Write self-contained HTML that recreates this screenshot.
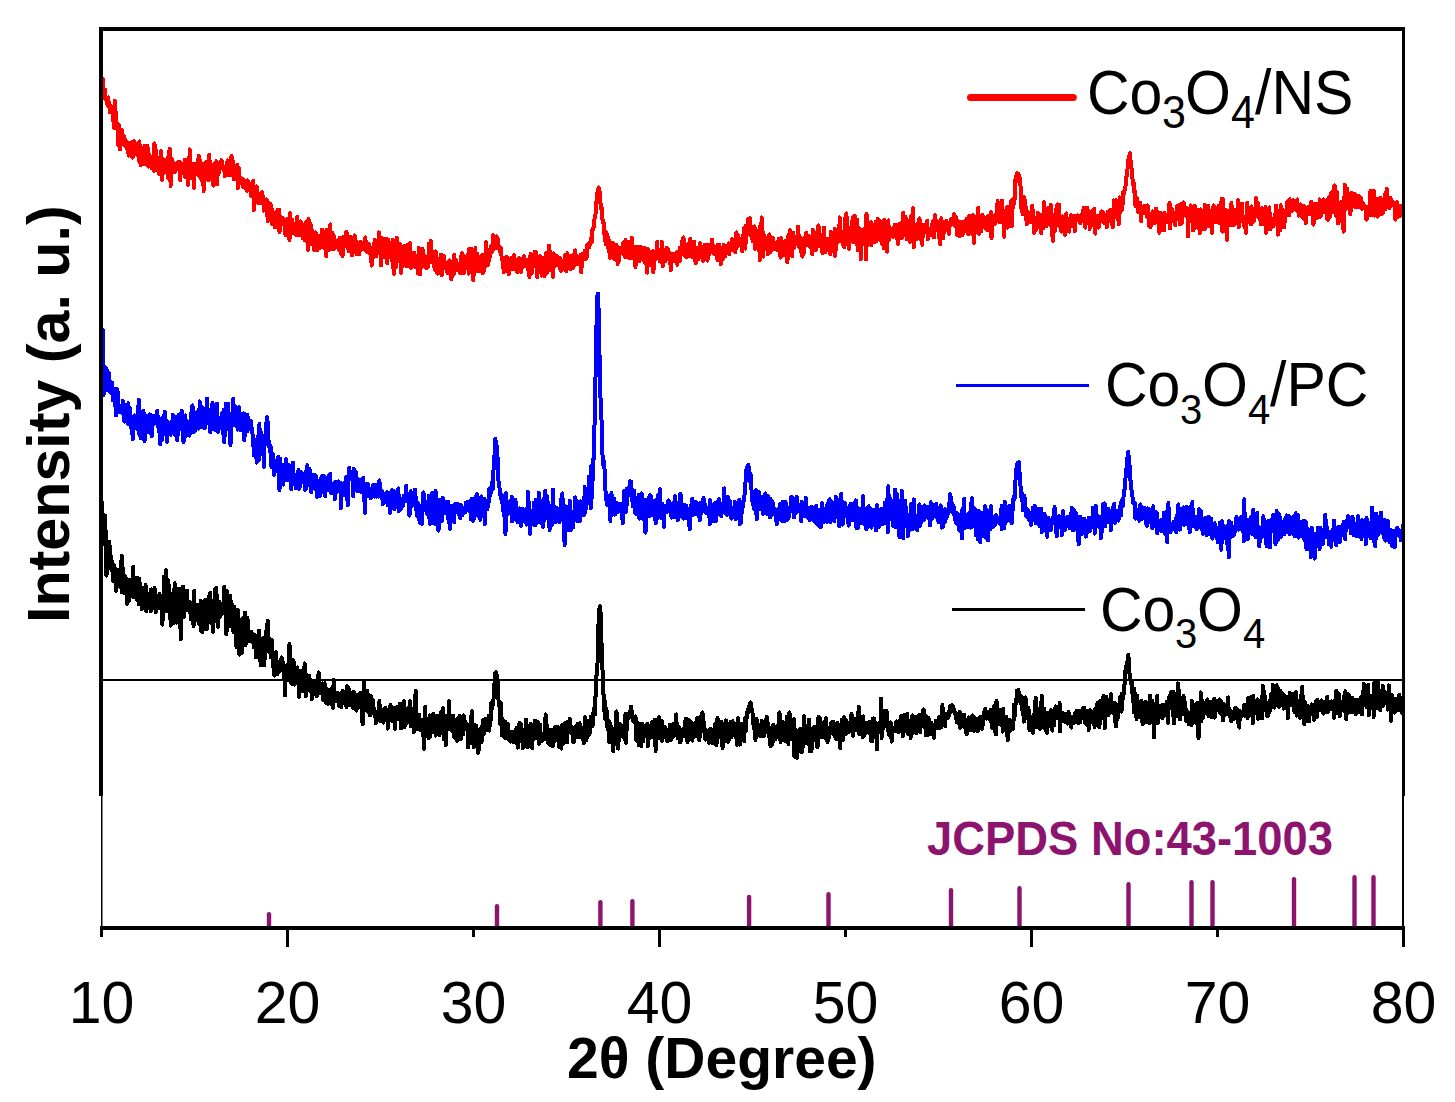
<!DOCTYPE html>
<html><head><meta charset="utf-8"><style>
html,body{margin:0;padding:0;background:#fff;}
svg{display:block;}
text{font-family:"Liberation Sans", sans-serif;}
</style></head><body>
<svg width="1455" height="1102" viewBox="0 0 1455 1102">
<rect width="1455" height="1102" fill="#fff"/>
<g fill="none" stroke-linejoin="round" stroke-linecap="round" stroke-width="4" shape-rendering="crispEdges">
<polyline stroke="#ff0000" points="101.5,88.2 102.1,92.8 102.6,90.2 103.2,79.3 103.7,97.1 104.3,95.2 104.8,89.3 105.4,99.3 106.0,99.3 106.5,100.4 107.1,100.1 107.6,105.7 108.2,97.4 108.8,103.5 109.3,102.6 109.9,112.6 110.4,109.7 111.0,108.6 111.5,106.2 112.1,111.8 112.7,115.3 113.2,114.5 113.8,127.9 114.3,127.1 114.9,100.9 115.4,108.7 116.0,122.8 116.6,122.7 117.1,128.8 117.7,130.5 118.2,145.3 118.8,124.6 119.4,131.3 119.9,149.5 120.5,141.5 121.0,143.1 121.6,136.5 122.1,130.0 122.7,143.7 123.3,144.3 123.8,135.8 124.4,140.5 124.9,145.5 125.5,139.8 126.1,146.4 126.6,148.3 127.2,148.2 127.7,144.4 128.3,153.1 128.8,155.6 129.4,151.5 130.0,142.9 130.5,155.1 131.1,145.8 131.6,156.8 132.2,141.7 132.7,157.6 133.3,150.5 133.9,141.1 134.4,148.8 135.0,152.1 135.5,154.1 136.1,144.5 136.7,143.9 137.2,154.6 137.8,149.7 138.3,155.6 138.9,160.2 139.4,141.4 140.0,156.9 140.6,164.9 141.1,153.2 141.7,149.4 142.2,162.2 142.8,158.6 143.3,164.0 143.9,154.4 144.5,145.7 145.0,156.9 145.6,154.5 146.1,164.5 146.7,160.2 147.3,145.9 147.8,149.6 148.4,166.6 148.9,165.2 149.5,154.9 150.0,160.3 150.6,164.2 151.2,164.6 151.7,168.2 152.3,163.4 152.8,160.8 153.4,159.6 154.0,170.8 154.5,143.4 155.1,161.3 155.6,162.9 156.2,150.7 156.7,165.9 157.3,157.6 157.9,170.8 158.4,162.5 159.0,169.6 159.5,174.5 160.1,167.4 160.6,156.6 161.2,151.2 161.8,179.8 162.3,163.8 162.9,159.0 163.4,166.3 164.0,163.7 164.6,172.7 165.1,165.9 165.7,165.9 166.2,160.2 166.8,170.0 167.3,158.2 167.9,171.8 168.5,178.5 169.0,155.4 169.6,148.8 170.1,171.9 170.7,185.9 171.2,160.6 171.8,159.1 172.4,172.1 172.9,162.5 173.5,164.9 174.0,166.2 174.6,172.2 175.2,166.1 175.7,170.7 176.3,167.8 176.8,163.4 177.4,167.0 177.9,162.7 178.5,169.4 179.1,161.5 179.6,161.6 180.2,180.1 180.7,169.1 181.3,169.1 181.9,173.5 182.4,166.3 183.0,167.8 183.5,173.1 184.1,172.0 184.6,159.7 185.2,176.9 185.8,164.4 186.3,160.2 186.9,161.5 187.4,166.1 188.0,184.9 188.5,158.6 189.1,171.2 189.7,149.3 190.2,169.6 190.8,178.2 191.3,167.3 191.9,163.5 192.5,171.7 193.0,176.1 193.6,175.7 194.1,187.8 194.7,171.3 195.2,163.9 195.8,168.2 196.4,168.7 196.9,170.3 197.5,169.1 198.0,170.8 198.6,155.6 199.1,176.2 199.7,165.0 200.3,160.6 200.8,174.7 201.4,179.9 201.9,173.9 202.5,171.6 203.1,164.0 203.6,190.9 204.2,177.2 204.7,163.6 205.3,166.3 205.8,172.3 206.4,161.6 207.0,173.2 207.5,169.2 208.1,180.3 208.6,178.6 209.2,154.5 209.8,172.6 210.3,161.6 210.9,179.6 211.4,173.2 212.0,175.7 212.5,164.6 213.1,184.2 213.7,185.5 214.2,163.8 214.8,173.7 215.3,166.0 215.9,170.5 216.4,161.2 217.0,184.3 217.6,162.8 218.1,167.8 218.7,173.8 219.2,164.8 219.8,167.9 220.4,165.2 220.9,168.6 221.5,160.2 222.0,166.2 222.6,168.1 223.1,167.1 223.7,170.4 224.3,167.6 224.8,176.4 225.4,167.6 225.9,169.3 226.5,165.0 227.0,166.3 227.6,160.3 228.2,175.2 228.7,161.7 229.3,165.1 229.8,174.3 230.4,174.9 231.0,168.6 231.5,155.8 232.1,175.5 232.6,174.5 233.2,161.8 233.7,178.9 234.3,168.2 234.9,165.5 235.4,174.9 236.0,173.4 236.5,176.6 237.1,165.0 237.7,188.2 238.2,173.2 238.8,168.2 239.3,182.1 239.9,177.1 240.4,181.7 241.0,178.8 241.6,181.1 242.1,183.4 242.7,179.1 243.2,186.9 243.8,182.0 244.3,180.8 244.9,186.0 245.5,188.3 246.0,185.7 246.6,183.4 247.1,190.8 247.7,180.3 248.3,184.2 248.8,189.7 249.4,183.5 249.9,190.6 250.5,190.7 251.0,195.9 251.6,187.3 252.2,189.2 252.7,194.6 253.3,180.6 253.8,210.5 254.4,190.7 254.9,191.0 255.5,200.4 256.1,195.8 256.6,186.3 257.2,200.8 257.7,202.8 258.3,195.5 258.9,197.0 259.4,202.4 260.0,193.9 260.5,203.2 261.1,202.2 261.6,196.7 262.2,192.1 262.8,200.7 263.3,196.4 263.9,210.7 264.4,204.9 265.0,210.3 265.6,205.8 266.1,207.3 266.7,199.4 267.2,211.7 267.8,221.5 268.3,204.7 268.9,203.0 269.5,207.2 270.0,205.1 270.6,204.0 271.1,211.7 271.7,208.9 272.2,224.0 272.8,212.9 273.4,216.4 273.9,222.2 274.5,213.1 275.0,227.5 275.6,212.2 276.2,211.8 276.7,216.0 277.3,218.6 277.8,209.9 278.4,220.7 278.9,209.5 279.5,232.2 280.1,222.2 280.6,218.8 281.2,217.4 281.7,221.6 282.3,223.3 282.8,217.9 283.4,219.3 284.0,224.8 284.5,222.9 285.1,233.5 285.6,235.3 286.2,227.7 286.8,231.3 287.3,218.9 287.9,233.0 288.4,228.5 289.0,232.3 289.5,240.3 290.1,213.1 290.7,231.1 291.2,221.6 291.8,233.5 292.3,220.0 292.9,225.8 293.5,230.6 294.0,233.5 294.6,229.6 295.1,223.4 295.7,225.0 296.2,235.3 296.8,228.8 297.4,216.6 297.9,235.1 298.5,232.0 299.0,235.5 299.6,226.6 300.1,235.5 300.7,221.3 301.3,233.9 301.8,226.0 302.4,235.2 302.9,238.0 303.5,224.6 304.1,230.2 304.6,231.2 305.2,240.7 305.7,237.1 306.3,221.7 306.8,235.7 307.4,238.3 308.0,250.0 308.5,219.1 309.1,228.9 309.6,244.7 310.2,223.1 310.7,224.8 311.3,239.4 311.9,244.0 312.4,230.8 313.0,241.2 313.5,238.3 314.1,250.1 314.7,238.5 315.2,246.9 315.8,232.4 316.3,238.6 316.9,239.7 317.4,249.9 318.0,245.8 318.6,235.8 319.1,247.2 319.7,248.1 320.2,241.4 320.8,240.4 321.4,240.9 321.9,229.5 322.5,243.9 323.0,244.1 323.6,235.8 324.1,247.7 324.7,231.9 325.3,237.9 325.8,238.4 326.4,256.3 326.9,229.9 327.5,245.7 328.0,248.4 328.6,244.1 329.2,250.0 329.7,233.9 330.3,224.4 330.8,247.0 331.4,232.4 332.0,238.9 332.5,232.6 333.1,249.4 333.6,248.1 334.2,236.2 334.7,248.7 335.3,242.8 335.9,240.9 336.4,242.5 337.0,240.6 337.5,247.1 338.1,244.8 338.6,239.6 339.2,250.5 339.8,237.5 340.3,244.7 340.9,245.8 341.4,254.2 342.0,238.2 342.6,256.1 343.1,243.4 343.7,240.3 344.2,236.4 344.8,246.2 345.3,241.8 345.9,232.6 346.5,232.2 347.0,236.5 347.6,235.4 348.1,248.8 348.7,250.8 349.3,246.7 349.8,242.8 350.4,236.8 350.9,240.4 351.5,246.5 352.0,255.5 352.6,246.7 353.2,238.2 353.7,240.7 354.3,237.2 354.8,235.5 355.4,239.9 355.9,242.8 356.5,254.1 357.1,242.5 357.6,251.5 358.2,254.5 358.7,243.8 359.3,254.1 359.9,248.7 360.4,241.9 361.0,246.6 361.5,245.4 362.1,244.1 362.6,244.7 363.2,247.1 363.8,249.3 364.3,241.2 364.9,246.9 365.4,237.5 366.0,249.0 366.5,251.5 367.1,248.7 367.7,249.6 368.2,251.7 368.8,243.5 369.3,246.4 369.9,251.4 370.5,254.8 371.0,250.8 371.6,265.6 372.1,247.5 372.7,255.1 373.2,257.1 373.8,247.3 374.4,242.4 374.9,239.7 375.5,249.5 376.0,256.4 376.6,250.3 377.2,249.6 377.7,245.5 378.3,252.6 378.8,232.3 379.4,250.2 379.9,248.7 380.5,238.0 381.1,265.4 381.6,237.8 382.2,240.2 382.7,239.3 383.3,257.5 383.8,241.8 384.4,254.2 385.0,253.7 385.5,251.2 386.1,238.7 386.6,244.5 387.2,263.2 387.8,239.3 388.3,243.3 388.9,249.1 389.4,257.4 390.0,253.2 390.5,257.7 391.1,243.0 391.7,260.3 392.2,257.6 392.8,239.7 393.3,266.8 393.9,273.8 394.4,247.7 395.0,255.2 395.6,267.3 396.1,242.1 396.7,237.7 397.2,243.9 397.8,250.5 398.4,250.5 398.9,261.3 399.5,258.2 400.0,244.3 400.6,260.9 401.1,272.8 401.7,266.5 402.3,264.6 402.8,255.5 403.4,264.4 403.9,246.3 404.5,262.1 405.1,254.3 405.6,265.6 406.2,259.4 406.7,245.2 407.3,256.4 407.8,266.3 408.4,245.4 409.0,250.7 409.5,249.2 410.1,243.2 410.6,264.5 411.2,267.7 411.7,263.6 412.3,259.2 412.9,257.1 413.4,259.8 414.0,252.5 414.5,265.5 415.1,266.9 415.7,266.3 416.2,255.7 416.8,260.5 417.3,259.0 417.9,273.2 418.4,262.1 419.0,248.0 419.6,264.0 420.1,274.3 420.7,266.3 421.2,267.7 421.8,262.1 422.3,248.8 422.9,250.0 423.5,253.8 424.0,261.2 424.6,264.1 425.1,266.6 425.7,259.8 426.3,268.3 426.8,260.1 427.4,257.2 427.9,267.4 428.5,255.7 429.0,243.5 429.6,254.6 430.2,262.2 430.7,241.0 431.3,259.1 431.8,259.2 432.4,251.9 433.0,251.5 433.5,258.3 434.1,257.8 434.6,269.7 435.2,263.9 435.7,251.3 436.3,256.2 436.9,266.2 437.4,273.7 438.0,264.3 438.5,264.0 439.1,273.4 439.6,262.2 440.2,260.7 440.8,254.5 441.3,259.9 441.9,275.2 442.4,255.3 443.0,263.3 443.6,255.9 444.1,264.3 444.7,268.4 445.2,262.6 445.8,267.8 446.3,267.8 446.9,266.6 447.5,273.1 448.0,268.5 448.6,263.0 449.1,261.2 449.7,260.4 450.2,267.3 450.8,263.2 451.4,279.4 451.9,274.9 452.5,263.9 453.0,263.3 453.6,274.6 454.2,254.5 454.7,262.7 455.3,270.9 455.8,259.9 456.4,262.5 456.9,263.3 457.5,269.6 458.1,266.4 458.6,268.1 459.2,269.5 459.7,265.8 460.3,273.1 460.9,260.6 461.4,255.7 462.0,253.2 462.5,254.1 463.1,261.7 463.6,273.2 464.2,267.0 464.8,261.3 465.3,257.7 465.9,261.7 466.4,262.7 467.0,261.4 467.5,254.7 468.1,262.0 468.7,273.6 469.2,248.6 469.8,263.8 470.3,248.9 470.9,267.1 471.5,259.7 472.0,248.9 472.6,266.4 473.1,280.2 473.7,266.4 474.2,274.9 474.8,264.9 475.4,248.0 475.9,269.3 476.5,261.9 477.0,253.4 477.6,271.3 478.1,267.1 478.7,260.5 479.3,271.3 479.8,257.5 480.4,268.9 480.9,256.6 481.5,267.3 482.1,254.9 482.6,273.4 483.2,264.0 483.7,271.8 484.3,255.7 484.8,257.7 485.4,266.0 486.0,242.1 486.5,252.7 487.1,265.6 487.6,261.5 488.2,264.1 488.8,255.8 489.3,260.5 489.9,252.4 490.4,248.3 491.0,246.1 491.5,252.0 492.1,251.3 492.7,250.1 493.2,235.2 493.8,241.9 494.3,247.1 494.9,248.6 495.4,243.6 496.0,241.0 496.6,236.2 497.1,245.4 497.7,238.6 498.2,246.3 498.8,248.7 499.4,247.6 499.9,247.0 500.5,252.3 501.0,248.0 501.6,257.2 502.1,257.4 502.7,262.0 503.3,266.0 503.8,272.4 504.4,259.0 504.9,269.6 505.5,257.4 506.0,257.1 506.6,259.5 507.2,257.2 507.7,271.6 508.3,271.4 508.8,274.0 509.4,265.1 510.0,267.3 510.5,261.6 511.1,257.9 511.6,268.6 512.2,267.5 512.7,258.7 513.3,269.5 513.9,255.1 514.4,264.7 515.0,262.1 515.5,262.7 516.1,259.5 516.7,271.2 517.2,268.9 517.8,272.3 518.3,266.3 518.9,258.2 519.4,263.3 520.0,258.6 520.6,267.8 521.1,272.0 521.7,266.9 522.2,261.5 522.8,262.8 523.3,266.1 523.9,256.2 524.5,265.8 525.0,266.2 525.6,261.6 526.1,262.5 526.7,266.3 527.3,260.1 527.8,260.1 528.4,270.7 528.9,267.3 529.5,277.2 530.0,259.4 530.6,254.1 531.2,272.9 531.7,273.2 532.3,261.6 532.8,256.6 533.4,266.6 533.9,254.6 534.5,264.6 535.1,251.7 535.6,265.3 536.2,252.2 536.7,265.2 537.3,277.0 537.9,264.7 538.4,271.6 539.0,262.0 539.5,260.2 540.1,256.1 540.6,272.5 541.2,265.1 541.8,275.7 542.3,257.6 542.9,263.5 543.4,265.3 544.0,273.6 544.6,276.1 545.1,260.1 545.7,256.8 546.2,252.6 546.8,272.8 547.3,263.2 547.9,259.2 548.5,263.2 549.0,245.4 549.6,251.0 550.1,270.1 550.7,266.1 551.2,264.2 551.8,255.4 552.4,267.5 552.9,276.8 553.5,253.2 554.0,262.9 554.6,259.3 555.2,265.7 555.7,262.8 556.3,261.5 556.8,255.5 557.4,262.6 557.9,257.7 558.5,261.5 559.1,262.2 559.6,267.9 560.2,258.2 560.7,260.2 561.3,270.9 561.8,261.1 562.4,260.8 563.0,269.0 563.5,264.7 564.1,263.4 564.6,264.3 565.2,254.5 565.8,265.8 566.3,271.3 566.9,266.4 567.4,253.2 568.0,264.4 568.5,257.4 569.1,261.3 569.7,263.2 570.2,255.8 570.8,269.3 571.3,261.6 571.9,265.8 572.5,264.7 573.0,267.9 573.6,266.7 574.1,253.8 574.7,260.6 575.2,250.3 575.8,257.7 576.4,262.6 576.9,263.1 577.5,264.4 578.0,256.7 578.6,259.4 579.1,258.0 579.7,262.7 580.3,263.7 580.8,254.9 581.4,272.3 581.9,255.7 582.5,253.7 583.1,257.4 583.6,257.6 584.2,256.2 584.7,250.5 585.3,259.0 585.8,252.3 586.4,257.9 587.0,256.4 587.5,244.3 588.1,244.6 588.6,243.4 589.2,247.3 589.7,245.1 590.3,244.3 590.9,238.1 591.4,240.8 592.0,242.0 592.5,228.8 593.1,229.7 593.7,227.4 594.2,221.8 594.8,216.7 595.3,216.8 595.9,209.4 596.4,202.4 597.0,193.9 597.6,195.1 598.1,189.4 598.7,187.4 599.2,189.4 599.8,192.6 600.4,202.9 600.9,204.3 601.5,209.5 602.0,208.1 602.6,222.2 603.1,220.3 603.7,223.7 604.3,234.0 604.8,230.7 605.4,240.8 605.9,244.4 606.5,232.5 607.0,242.0 607.6,236.2 608.2,245.0 608.7,251.2 609.3,240.1 609.8,257.8 610.4,247.2 611.0,243.0 611.5,249.3 612.1,255.0 612.6,243.1 613.2,251.3 613.7,243.7 614.3,259.0 614.9,253.1 615.4,249.8 616.0,258.7 616.5,244.9 617.1,250.3 617.6,264.0 618.2,252.0 618.8,261.2 619.3,254.0 619.9,248.4 620.4,251.1 621.0,253.1 621.6,249.9 622.1,247.1 622.7,247.2 623.2,242.5 623.8,252.7 624.3,254.5 624.9,256.8 625.5,239.7 626.0,257.1 626.6,251.6 627.1,241.9 627.7,252.3 628.3,257.3 628.8,255.4 629.4,256.9 629.9,258.5 630.5,258.3 631.0,251.9 631.6,237.6 632.2,247.1 632.7,255.2 633.3,249.5 633.8,257.8 634.4,258.8 634.9,253.7 635.5,266.9 636.1,246.7 636.6,260.5 637.2,250.7 637.7,248.6 638.3,258.6 638.9,250.2 639.4,260.9 640.0,246.6 640.5,255.3 641.1,249.3 641.6,253.8 642.2,253.0 642.8,247.9 643.3,260.5 643.9,247.5 644.4,249.5 645.0,262.6 645.5,263.3 646.1,261.4 646.7,259.3 647.2,272.7 647.8,249.0 648.3,252.3 648.9,250.8 649.5,263.6 650.0,259.6 650.6,265.2 651.1,264.3 651.7,256.3 652.2,252.4 652.8,251.2 653.4,272.2 653.9,263.9 654.5,261.4 655.0,255.3 655.6,256.1 656.2,255.1 656.7,255.1 657.3,242.0 657.8,256.5 658.4,254.4 658.9,258.4 659.5,257.8 660.1,261.6 660.6,256.4 661.2,261.1 661.7,241.7 662.3,250.3 662.8,266.3 663.4,250.0 664.0,255.3 664.5,260.8 665.1,252.5 665.6,261.0 666.2,250.1 666.8,247.9 667.3,251.0 667.9,249.6 668.4,257.8 669.0,256.4 669.5,259.6 670.1,253.0 670.7,270.0 671.2,257.4 671.8,257.5 672.3,259.7 672.9,256.3 673.4,254.3 674.0,257.4 674.6,260.9 675.1,259.5 675.7,260.5 676.2,253.3 676.8,252.1 677.4,264.8 677.9,254.0 678.5,257.1 679.0,258.1 679.6,261.3 680.1,247.4 680.7,251.4 681.3,251.4 681.8,251.8 682.4,240.7 682.9,252.4 683.5,237.4 684.1,254.2 684.6,255.3 685.2,255.5 685.7,245.3 686.3,257.2 686.8,246.8 687.4,244.5 688.0,245.7 688.5,246.4 689.1,252.3 689.6,256.1 690.2,238.5 690.7,247.8 691.3,256.6 691.9,252.3 692.4,254.2 693.0,241.9 693.5,257.1 694.1,241.6 694.7,252.5 695.2,259.8 695.8,263.0 696.3,254.7 696.9,257.0 697.4,248.0 698.0,248.8 698.6,258.9 699.1,251.9 699.7,251.1 700.2,243.3 700.8,252.8 701.3,255.7 701.9,247.0 702.5,248.7 703.0,260.9 703.6,252.5 704.1,249.7 704.7,244.6 705.3,247.4 705.8,249.4 706.4,258.5 706.9,247.0 707.5,260.6 708.0,244.8 708.6,248.0 709.2,254.8 709.7,248.4 710.3,244.9 710.8,248.9 711.4,252.3 712.0,239.5 712.5,248.2 713.1,249.0 713.6,247.3 714.2,254.2 714.7,246.4 715.3,247.7 715.9,250.3 716.4,254.7 717.0,248.8 717.5,259.9 718.1,244.6 718.6,258.7 719.2,244.9 719.8,249.4 720.3,252.9 720.9,264.2 721.4,256.5 722.0,247.7 722.6,259.2 723.1,248.8 723.7,244.7 724.2,253.1 724.8,250.5 725.3,256.3 725.9,245.7 726.5,252.0 727.0,253.5 727.6,250.8 728.1,248.4 728.7,243.5 729.2,254.1 729.8,248.6 730.4,250.6 730.9,244.5 731.5,246.6 732.0,239.2 732.6,246.2 733.2,250.3 733.7,245.4 734.3,250.0 734.8,246.0 735.4,252.4 735.9,241.9 736.5,232.3 737.1,245.2 737.6,241.1 738.2,235.6 738.7,245.7 739.3,243.0 739.9,243.9 740.4,238.7 741.0,241.8 741.5,241.9 742.1,251.1 742.6,235.4 743.2,239.2 743.8,241.0 744.3,227.8 744.9,227.9 745.4,248.6 746.0,225.5 746.5,236.2 747.1,227.2 747.7,225.4 748.2,218.9 748.8,220.2 749.3,222.8 749.9,218.2 750.5,225.4 751.0,227.8 751.6,238.6 752.1,229.7 752.7,241.3 753.2,241.1 753.8,234.9 754.4,226.4 754.9,248.9 755.5,228.9 756.0,235.7 756.6,246.1 757.1,248.2 757.7,233.2 758.3,239.6 758.8,237.9 759.4,249.5 759.9,260.2 760.5,225.4 761.1,247.7 761.6,217.3 762.2,240.6 762.7,231.8 763.3,256.6 763.8,242.4 764.4,235.8 765.0,238.0 765.5,237.9 766.1,243.9 766.6,241.8 767.2,247.9 767.8,254.3 768.3,248.9 768.9,236.4 769.4,234.4 770.0,240.4 770.5,252.2 771.1,243.7 771.7,242.0 772.2,247.1 772.8,237.9 773.3,239.7 773.9,249.6 774.4,244.8 775.0,243.9 775.6,248.5 776.1,243.1 776.7,242.4 777.2,243.7 777.8,250.0 778.4,246.6 778.9,238.8 779.5,244.1 780.0,250.0 780.6,257.7 781.1,238.3 781.7,247.8 782.3,243.7 782.8,250.8 783.4,248.2 783.9,255.2 784.5,248.5 785.0,240.9 785.6,240.7 786.2,247.4 786.7,247.3 787.3,262.2 787.8,256.8 788.4,234.9 789.0,246.5 789.5,233.2 790.1,230.3 790.6,249.2 791.2,247.6 791.7,234.6 792.3,256.3 792.9,234.8 793.4,233.0 794.0,247.9 794.5,244.2 795.1,241.0 795.7,241.6 796.2,243.9 796.8,240.8 797.3,240.5 797.9,226.5 798.4,230.9 799.0,246.5 799.6,235.9 800.1,245.7 800.7,250.9 801.2,238.5 801.8,243.3 802.3,256.6 802.9,246.1 803.5,254.3 804.0,251.8 804.6,246.1 805.1,239.9 805.7,234.8 806.3,232.9 806.8,243.6 807.4,243.4 807.9,239.1 808.5,245.5 809.0,236.2 809.6,246.8 810.2,240.1 810.7,239.6 811.3,239.7 811.8,239.1 812.4,254.4 812.9,230.0 813.5,240.6 814.1,246.9 814.6,243.8 815.2,237.8 815.7,250.0 816.3,233.4 816.9,232.0 817.4,243.3 818.0,231.2 818.5,225.5 819.1,245.8 819.6,245.2 820.2,245.3 820.8,237.5 821.3,242.1 821.9,234.5 822.4,252.9 823.0,246.7 823.6,246.6 824.1,227.5 824.7,247.3 825.2,252.5 825.8,250.6 826.3,247.5 826.9,241.6 827.5,238.9 828.0,246.1 828.6,244.3 829.1,243.1 829.7,238.8 830.2,254.1 830.8,231.9 831.4,240.6 831.9,236.1 832.5,248.5 833.0,251.5 833.6,249.9 834.2,245.9 834.7,228.8 835.3,255.9 835.8,243.4 836.4,238.3 836.9,239.1 837.5,236.0 838.1,241.8 838.6,240.7 839.2,235.1 839.7,217.4 840.3,237.1 840.8,240.9 841.4,241.1 842.0,235.3 842.5,240.0 843.1,244.4 843.6,231.9 844.2,247.5 844.8,218.9 845.3,224.3 845.9,226.9 846.4,213.4 847.0,225.4 847.5,244.7 848.1,244.6 848.7,234.2 849.2,248.8 849.8,235.1 850.3,228.1 850.9,234.9 851.5,231.1 852.0,239.5 852.6,217.2 853.1,242.1 853.7,227.3 854.2,240.8 854.8,215.9 855.4,227.6 855.9,233.0 856.5,241.8 857.0,219.4 857.6,250.5 858.1,238.1 858.7,227.6 859.3,246.5 859.8,235.0 860.4,246.5 860.9,259.0 861.5,243.0 862.1,230.0 862.6,231.5 863.2,242.0 863.7,239.3 864.3,228.6 864.8,230.6 865.4,243.6 866.0,259.2 866.5,213.6 867.1,244.1 867.6,235.8 868.2,244.2 868.7,244.6 869.3,237.6 869.9,228.9 870.4,225.8 871.0,222.1 871.5,244.9 872.1,233.8 872.7,231.0 873.2,232.4 873.8,224.6 874.3,235.5 874.9,242.0 875.4,240.3 876.0,221.6 876.6,241.1 877.1,226.5 877.7,218.6 878.2,223.1 878.8,224.7 879.4,231.1 879.9,224.3 880.5,221.2 881.0,229.5 881.6,243.7 882.1,226.8 882.7,234.4 883.3,232.1 883.8,248.5 884.4,219.7 884.9,238.7 885.5,223.9 886.0,228.2 886.6,231.4 887.2,251.7 887.7,227.2 888.3,220.3 888.8,239.9 889.4,226.7 890.0,230.3 890.5,231.6 891.1,232.2 891.6,230.5 892.2,233.2 892.7,233.9 893.3,236.8 893.9,228.7 894.4,226.6 895.0,224.5 895.5,235.5 896.1,231.3 896.6,235.5 897.2,235.6 897.8,243.8 898.3,233.7 898.9,237.8 899.4,223.6 900.0,224.5 900.6,230.3 901.1,223.3 901.7,238.1 902.2,222.2 902.8,233.1 903.3,212.9 903.9,223.5 904.5,229.4 905.0,229.9 905.6,217.2 906.1,232.4 906.7,239.2 907.3,236.3 907.8,225.4 908.4,225.8 908.9,220.7 909.5,235.3 910.0,241.8 910.6,225.6 911.2,216.0 911.7,231.5 912.3,235.6 912.8,208.1 913.4,231.2 913.9,247.4 914.5,236.9 915.1,235.0 915.6,234.1 916.2,239.5 916.7,224.3 917.3,225.3 917.9,235.2 918.4,227.1 919.0,234.5 919.5,218.2 920.1,238.5 920.6,239.2 921.2,233.3 921.8,234.2 922.3,244.8 922.9,224.9 923.4,226.1 924.0,224.8 924.5,229.4 925.1,225.1 925.7,232.3 926.2,227.4 926.8,221.7 927.3,220.9 927.9,239.3 928.5,230.5 929.0,229.2 929.6,230.6 930.1,229.7 930.7,234.9 931.2,233.4 931.8,225.7 932.4,224.0 932.9,222.1 933.5,220.8 934.0,237.5 934.6,222.5 935.2,215.2 935.7,222.5 936.3,222.6 936.8,229.5 937.4,221.5 937.9,230.3 938.5,229.2 939.1,234.6 939.6,240.1 940.2,244.3 940.7,234.5 941.3,218.2 941.8,222.8 942.4,226.8 943.0,238.3 943.5,229.2 944.1,232.4 944.6,223.3 945.2,228.1 945.8,228.7 946.3,221.0 946.9,228.8 947.4,230.5 948.0,222.5 948.5,229.9 949.1,233.8 949.7,223.6 950.2,223.1 950.8,221.1 951.3,219.2 951.9,224.1 952.4,220.6 953.0,221.3 953.6,218.6 954.1,214.1 954.7,218.0 955.2,226.0 955.8,217.1 956.4,220.6 956.9,234.8 957.5,232.0 958.0,221.3 958.6,229.5 959.1,222.2 959.7,236.3 960.3,223.0 960.8,227.3 961.4,235.5 961.9,221.8 962.5,235.2 963.1,221.7 963.6,228.3 964.2,224.8 964.7,225.9 965.3,227.3 965.8,225.6 966.4,219.2 967.0,231.2 967.5,230.0 968.1,233.6 968.6,234.1 969.2,215.9 969.7,233.1 970.3,233.1 970.9,220.9 971.4,231.3 972.0,234.1 972.5,220.7 973.1,215.1 973.7,221.9 974.2,242.9 974.8,226.0 975.3,216.5 975.9,222.8 976.4,218.0 977.0,221.9 977.6,225.2 978.1,207.9 978.7,226.9 979.2,233.7 979.8,223.2 980.3,221.9 980.9,231.4 981.5,216.1 982.0,216.1 982.6,215.1 983.1,222.9 983.7,226.2 984.3,223.0 984.8,226.9 985.4,228.6 985.9,226.2 986.5,217.6 987.0,220.9 987.6,230.5 988.2,215.5 988.7,220.4 989.3,219.1 989.8,220.4 990.4,214.3 991.0,212.3 991.5,237.9 992.1,227.0 992.6,215.8 993.2,219.9 993.7,224.7 994.3,217.5 994.9,223.9 995.4,215.2 996.0,216.8 996.5,218.6 997.1,215.8 997.6,201.0 998.2,219.0 998.8,220.8 999.3,222.4 999.9,211.0 1000.4,221.4 1001.0,220.4 1001.6,204.4 1002.1,200.6 1002.7,222.6 1003.2,210.5 1003.8,227.0 1004.3,236.8 1004.9,213.1 1005.5,211.9 1006.0,217.6 1006.6,223.4 1007.1,206.9 1007.7,227.6 1008.2,224.7 1008.8,221.1 1009.4,209.8 1009.9,221.4 1010.5,219.6 1011.0,201.1 1011.6,226.2 1012.2,205.2 1012.7,208.0 1013.3,199.0 1013.8,202.1 1014.4,203.0 1014.9,187.5 1015.5,179.5 1016.1,181.2 1016.6,174.1 1017.2,173.2 1017.7,173.5 1018.3,173.7 1018.9,179.9 1019.4,175.6 1020.0,184.9 1020.5,185.6 1021.1,199.5 1021.6,210.9 1022.2,201.9 1022.8,214.0 1023.3,202.2 1023.9,196.8 1024.4,200.8 1025.0,200.0 1025.5,205.8 1026.1,212.3 1026.7,224.0 1027.2,221.4 1027.8,220.4 1028.3,214.2 1028.9,212.5 1029.5,218.8 1030.0,220.0 1030.6,221.3 1031.1,222.5 1031.7,219.0 1032.2,205.7 1032.8,212.0 1033.4,214.3 1033.9,232.8 1034.5,217.4 1035.0,225.3 1035.6,230.8 1036.1,222.7 1036.7,217.5 1037.3,218.1 1037.8,213.0 1038.4,222.0 1038.9,227.4 1039.5,223.5 1040.1,224.7 1040.6,224.3 1041.2,233.0 1041.7,214.9 1042.3,220.3 1042.8,224.2 1043.4,228.1 1044.0,202.1 1044.5,215.7 1045.1,218.1 1045.6,212.2 1046.2,226.2 1046.8,221.8 1047.3,217.4 1047.9,208.2 1048.4,210.7 1049.0,213.4 1049.5,224.8 1050.1,211.7 1050.7,204.9 1051.2,209.8 1051.8,216.5 1052.3,234.4 1052.9,240.8 1053.4,216.9 1054.0,227.9 1054.6,231.3 1055.1,230.1 1055.7,218.8 1056.2,209.1 1056.8,215.5 1057.4,204.4 1057.9,221.3 1058.5,225.7 1059.0,204.6 1059.6,219.5 1060.1,222.5 1060.7,230.3 1061.3,231.6 1061.8,227.5 1062.4,216.4 1062.9,219.2 1063.5,231.6 1064.0,218.1 1064.6,222.6 1065.2,234.8 1065.7,224.2 1066.3,213.4 1066.8,221.3 1067.4,227.9 1068.0,222.0 1068.5,231.0 1069.1,231.5 1069.6,218.7 1070.2,219.6 1070.7,221.9 1071.3,215.1 1071.9,224.3 1072.4,220.8 1073.0,226.1 1073.5,218.1 1074.1,216.4 1074.7,231.1 1075.2,216.2 1075.8,217.6 1076.3,216.7 1076.9,218.8 1077.4,215.4 1078.0,219.9 1078.6,216.2 1079.1,217.6 1079.7,221.6 1080.2,223.3 1080.8,221.9 1081.3,215.0 1081.9,221.1 1082.5,217.9 1083.0,217.8 1083.6,208.0 1084.1,221.8 1084.7,216.7 1085.3,227.6 1085.8,220.8 1086.4,209.6 1086.9,207.6 1087.5,223.3 1088.0,210.0 1088.6,219.8 1089.2,213.1 1089.7,228.9 1090.3,215.2 1090.8,224.8 1091.4,223.6 1091.9,211.1 1092.5,212.1 1093.1,224.9 1093.6,214.7 1094.2,208.8 1094.7,223.7 1095.3,233.7 1095.9,215.7 1096.4,226.4 1097.0,215.8 1097.5,227.0 1098.1,216.2 1098.6,227.8 1099.2,222.6 1099.8,217.7 1100.3,221.1 1100.9,215.6 1101.4,211.5 1102.0,212.1 1102.6,219.3 1103.1,212.0 1103.7,222.7 1104.2,223.2 1104.8,222.5 1105.3,215.3 1105.9,218.9 1106.5,217.9 1107.0,227.1 1107.6,211.6 1108.1,214.2 1108.7,214.8 1109.2,215.0 1109.8,210.3 1110.4,210.7 1110.9,221.7 1111.5,209.8 1112.0,220.1 1112.6,227.3 1113.2,221.7 1113.7,200.3 1114.3,217.4 1114.8,215.0 1115.4,215.0 1115.9,200.1 1116.5,215.5 1117.1,202.8 1117.6,217.9 1118.2,215.8 1118.7,224.5 1119.3,205.1 1119.8,197.3 1120.4,212.2 1121.0,210.0 1121.5,201.3 1122.1,209.9 1122.6,204.3 1123.2,191.6 1123.8,194.3 1124.3,191.2 1124.9,189.7 1125.4,187.3 1126.0,179.4 1126.5,176.5 1127.1,173.9 1127.7,166.5 1128.2,161.3 1128.8,157.7 1129.3,156.3 1129.9,153.3 1130.5,160.0 1131.0,161.4 1131.6,169.3 1132.1,169.7 1132.7,182.8 1133.2,185.2 1133.8,182.8 1134.4,193.0 1134.9,191.5 1135.5,206.1 1136.0,202.2 1136.6,197.7 1137.1,204.4 1137.7,204.5 1138.3,212.1 1138.8,208.7 1139.4,210.5 1139.9,202.5 1140.5,213.4 1141.1,221.1 1141.6,213.8 1142.2,210.6 1142.7,212.2 1143.3,206.5 1143.8,213.0 1144.4,206.3 1145.0,212.9 1145.5,210.8 1146.1,208.6 1146.6,216.8 1147.2,205.4 1147.7,213.9 1148.3,206.8 1148.9,225.3 1149.4,226.6 1150.0,220.3 1150.5,227.0 1151.1,219.6 1151.7,219.6 1152.2,214.0 1152.8,211.4 1153.3,218.2 1153.9,214.3 1154.4,215.2 1155.0,223.1 1155.6,217.8 1156.1,208.5 1156.7,217.7 1157.2,214.3 1157.8,217.6 1158.4,212.4 1158.9,228.0 1159.5,232.8 1160.0,212.7 1160.6,224.5 1161.1,224.2 1161.7,213.3 1162.3,221.0 1162.8,229.4 1163.4,225.7 1163.9,230.5 1164.5,213.0 1165.0,215.6 1165.6,221.9 1166.2,222.2 1166.7,220.1 1167.3,217.5 1167.8,217.2 1168.4,215.9 1169.0,222.0 1169.5,202.6 1170.1,228.6 1170.6,215.5 1171.2,209.7 1171.7,221.6 1172.3,209.2 1172.9,220.2 1173.4,214.9 1174.0,221.0 1174.5,222.1 1175.1,225.3 1175.6,213.0 1176.2,214.1 1176.8,215.8 1177.3,205.7 1177.9,219.6 1178.4,216.1 1179.0,205.1 1179.6,223.5 1180.1,224.5 1180.7,204.3 1181.2,218.3 1181.8,223.2 1182.3,220.0 1182.9,205.8 1183.5,202.3 1184.0,212.1 1184.6,208.9 1185.1,212.6 1185.7,211.7 1186.3,216.7 1186.8,207.9 1187.4,211.0 1187.9,236.5 1188.5,211.3 1189.0,218.4 1189.6,214.9 1190.2,214.4 1190.7,205.3 1191.3,217.3 1191.8,212.7 1192.4,220.1 1192.9,230.5 1193.5,215.3 1194.1,220.3 1194.6,205.8 1195.2,215.5 1195.7,227.7 1196.3,214.5 1196.9,210.0 1197.4,217.3 1198.0,214.2 1198.5,214.0 1199.1,213.1 1199.6,233.4 1200.2,209.3 1200.8,213.4 1201.3,212.2 1201.9,228.0 1202.4,215.0 1203.0,229.0 1203.5,219.2 1204.1,217.6 1204.7,204.8 1205.2,228.8 1205.8,222.8 1206.3,221.5 1206.9,216.7 1207.5,213.9 1208.0,205.9 1208.6,226.4 1209.1,220.0 1209.7,213.9 1210.2,211.2 1210.8,218.2 1211.4,216.0 1211.9,232.8 1212.5,224.2 1213.0,210.6 1213.6,205.4 1214.2,213.8 1214.7,206.9 1215.3,216.7 1215.8,219.8 1216.4,222.1 1216.9,219.7 1217.5,213.4 1218.1,221.3 1218.6,206.1 1219.2,214.2 1219.7,223.0 1220.3,217.7 1220.8,202.2 1221.4,203.3 1222.0,198.9 1222.5,231.7 1223.1,199.8 1223.6,213.0 1224.2,231.1 1224.8,223.9 1225.3,225.8 1225.9,209.7 1226.4,220.4 1227.0,239.7 1227.5,213.7 1228.1,217.4 1228.7,211.4 1229.2,213.9 1229.8,216.9 1230.3,224.9 1230.9,207.1 1231.4,203.1 1232.0,214.4 1232.6,215.9 1233.1,225.3 1233.7,220.1 1234.2,209.8 1234.8,219.3 1235.4,223.8 1235.9,217.4 1236.5,212.5 1237.0,220.9 1237.6,212.6 1238.1,200.2 1238.7,227.0 1239.3,205.0 1239.8,213.2 1240.4,213.4 1240.9,213.3 1241.5,213.8 1242.1,203.6 1242.6,221.0 1243.2,216.6 1243.7,216.7 1244.3,225.9 1244.8,226.1 1245.4,228.2 1246.0,232.7 1246.5,220.3 1247.1,202.8 1247.6,218.1 1248.2,216.3 1248.7,216.7 1249.3,210.9 1249.9,208.4 1250.4,222.9 1251.0,224.3 1251.5,206.3 1252.1,220.5 1252.7,214.3 1253.2,212.4 1253.8,221.6 1254.3,215.2 1254.9,210.8 1255.4,216.0 1256.0,198.0 1256.6,210.2 1257.1,211.4 1257.7,202.9 1258.2,216.8 1258.8,217.5 1259.3,209.7 1259.9,213.5 1260.5,221.1 1261.0,224.6 1261.6,208.2 1262.1,218.1 1262.7,224.4 1263.3,214.9 1263.8,208.5 1264.4,208.8 1264.9,212.8 1265.5,206.9 1266.0,232.8 1266.6,211.4 1267.2,219.4 1267.7,218.0 1268.3,221.7 1268.8,214.0 1269.4,207.3 1270.0,229.6 1270.5,217.0 1271.1,218.6 1271.6,219.4 1272.2,226.9 1272.7,223.5 1273.3,226.4 1273.9,224.0 1274.4,219.4 1275.0,220.1 1275.5,213.4 1276.1,205.5 1276.6,216.6 1277.2,211.0 1277.8,234.7 1278.3,227.8 1278.9,225.1 1279.4,213.5 1280.0,230.5 1280.6,205.2 1281.1,208.2 1281.7,210.7 1282.2,209.2 1282.8,216.2 1283.3,216.3 1283.9,227.5 1284.5,220.9 1285.0,222.0 1285.6,216.1 1286.1,211.9 1286.7,207.8 1287.2,201.8 1287.8,205.7 1288.4,208.5 1288.9,215.6 1289.5,199.2 1290.0,200.9 1290.6,210.8 1291.2,202.4 1291.7,210.9 1292.3,206.0 1292.8,203.8 1293.4,200.1 1293.9,207.7 1294.5,203.9 1295.1,204.8 1295.6,204.8 1296.2,209.8 1296.7,209.7 1297.3,199.3 1297.9,208.4 1298.4,211.8 1299.0,215.6 1299.5,214.4 1300.1,211.5 1300.6,204.3 1301.2,206.6 1301.8,216.1 1302.3,207.4 1302.9,217.1 1303.4,218.6 1304.0,206.0 1304.5,214.3 1305.1,211.4 1305.7,223.3 1306.2,216.8 1306.8,209.4 1307.3,214.6 1307.9,207.3 1308.5,211.5 1309.0,213.6 1309.6,213.3 1310.1,214.2 1310.7,207.3 1311.2,201.9 1311.8,210.3 1312.4,207.2 1312.9,208.3 1313.5,224.6 1314.0,218.9 1314.6,211.1 1315.1,203.7 1315.7,204.3 1316.3,213.9 1316.8,218.0 1317.4,209.8 1317.9,212.1 1318.5,212.7 1319.1,217.4 1319.6,199.4 1320.2,211.5 1320.7,212.8 1321.3,215.9 1321.8,212.3 1322.4,202.7 1323.0,205.7 1323.5,199.5 1324.1,210.2 1324.6,209.9 1325.2,211.8 1325.8,201.9 1326.3,200.5 1326.9,218.3 1327.4,209.1 1328.0,219.9 1328.5,210.7 1329.1,197.1 1329.7,213.4 1330.2,216.6 1330.8,204.2 1331.3,193.0 1331.9,212.7 1332.4,206.6 1333.0,210.0 1333.6,186.4 1334.1,211.7 1334.7,185.4 1335.2,200.9 1335.8,215.8 1336.4,192.7 1336.9,192.3 1337.5,204.6 1338.0,223.2 1338.6,223.1 1339.1,203.1 1339.7,217.6 1340.3,213.8 1340.8,210.8 1341.4,211.5 1341.9,201.5 1342.5,215.2 1343.0,217.2 1343.6,231.7 1344.2,215.2 1344.7,184.7 1345.3,195.5 1345.8,208.8 1346.4,206.0 1347.0,188.9 1347.5,203.3 1348.1,201.0 1348.6,203.2 1349.2,202.1 1349.7,210.2 1350.3,214.1 1350.9,207.3 1351.4,192.8 1352.0,194.4 1352.5,195.8 1353.1,200.2 1353.7,197.2 1354.2,197.7 1354.8,193.5 1355.3,207.1 1355.9,206.4 1356.4,207.2 1357.0,200.4 1357.6,204.3 1358.1,196.0 1358.7,196.0 1359.2,199.6 1359.8,207.1 1360.3,203.3 1360.9,198.1 1361.5,206.0 1362.0,208.6 1362.6,207.6 1363.1,203.4 1363.7,208.1 1364.3,205.7 1364.8,206.6 1365.4,208.2 1365.9,213.3 1366.5,219.7 1367.0,218.2 1367.6,212.6 1368.2,206.4 1368.7,206.8 1369.3,206.8 1369.8,215.0 1370.4,191.1 1370.9,209.1 1371.5,194.8 1372.1,206.8 1372.6,214.9 1373.2,200.3 1373.7,190.9 1374.3,214.3 1374.9,215.5 1375.4,208.5 1376.0,213.6 1376.5,198.9 1377.1,212.9 1377.6,216.7 1378.2,208.8 1378.8,206.0 1379.3,213.6 1379.9,212.4 1380.4,197.5 1381.0,214.1 1381.6,209.2 1382.1,204.4 1382.7,213.6 1383.2,210.5 1383.8,209.0 1384.3,198.5 1384.9,209.7 1385.5,193.5 1386.0,201.7 1386.6,188.8 1387.1,189.0 1387.7,206.7 1388.2,202.6 1388.8,204.2 1389.4,208.3 1389.9,206.7 1390.5,197.8 1391.0,205.2 1391.6,204.6 1392.2,201.9 1392.7,205.1 1393.3,204.0 1393.8,202.7 1394.4,205.2 1394.9,209.1 1395.5,219.7 1396.1,204.2 1396.6,211.8 1397.2,202.3 1397.7,217.5 1398.3,208.8 1398.8,211.3 1399.4,216.4 1400.0,215.4 1400.5,206.0 1401.1,214.1 1401.6,211.4 1402.2,214.6 1402.8,213.2 1403.3,215.2"/>
<polyline stroke="#0000ff" points="101.5,366.3 102.1,356.4 102.6,359.3 103.2,330.2 103.7,394.9 104.3,386.3 104.8,366.5 105.4,383.5 106.0,378.1 106.5,368.5 107.1,390.0 107.6,375.1 108.2,376.6 108.8,372.8 109.3,388.8 109.9,384.1 110.4,392.4 111.0,382.0 111.5,390.8 112.1,382.6 112.7,400.0 113.2,395.3 113.8,397.8 114.3,399.6 114.9,389.4 115.4,404.6 116.0,415.2 116.6,388.5 117.1,388.9 117.7,391.6 118.2,409.1 118.8,404.8 119.4,412.0 119.9,410.1 120.5,407.2 121.0,408.2 121.6,405.7 122.1,413.2 122.7,400.6 123.3,405.9 123.8,410.9 124.4,421.7 124.9,405.9 125.5,404.6 126.1,408.8 126.6,419.5 127.2,412.5 127.7,423.6 128.3,403.2 128.8,424.1 129.4,424.3 130.0,408.0 130.5,419.6 131.1,428.0 131.6,420.3 132.2,427.8 132.7,439.2 133.3,423.2 133.9,419.1 134.4,415.3 135.0,427.6 135.5,420.6 136.1,420.9 136.7,421.8 137.2,428.9 137.8,413.0 138.3,408.6 138.9,399.8 139.4,435.0 140.0,424.1 140.6,438.4 141.1,423.3 141.7,415.9 142.2,428.2 142.8,422.6 143.3,410.6 143.9,414.3 144.5,441.2 145.0,426.8 145.6,427.4 146.1,420.4 146.7,416.2 147.3,432.0 147.8,422.0 148.4,415.6 148.9,421.7 149.5,414.3 150.0,424.8 150.6,433.7 151.2,415.2 151.7,436.3 152.3,416.9 152.8,424.5 153.4,415.7 154.0,421.2 154.5,423.7 155.1,419.6 155.6,417.5 156.2,417.9 156.7,416.9 157.3,411.0 157.9,421.8 158.4,427.4 159.0,431.6 159.5,429.7 160.1,444.1 160.6,427.5 161.2,421.7 161.8,440.2 162.3,417.7 162.9,433.8 163.4,419.0 164.0,429.6 164.6,411.6 165.1,434.6 165.7,426.5 166.2,420.1 166.8,441.9 167.3,434.7 167.9,428.9 168.5,422.2 169.0,428.1 169.6,427.0 170.1,434.3 170.7,434.7 171.2,422.0 171.8,422.6 172.4,422.3 172.9,414.9 173.5,420.8 174.0,424.5 174.6,430.6 175.2,435.4 175.7,417.0 176.3,428.0 176.8,419.2 177.4,440.5 177.9,422.1 178.5,426.9 179.1,414.4 179.6,415.7 180.2,424.8 180.7,420.1 181.3,427.0 181.9,410.9 182.4,431.0 183.0,417.9 183.5,442.0 184.1,424.6 184.6,437.8 185.2,415.4 185.8,432.7 186.3,420.5 186.9,424.4 187.4,429.3 188.0,425.9 188.5,431.3 189.1,435.6 189.7,434.2 190.2,426.7 190.8,414.1 191.3,418.8 191.9,424.0 192.5,405.4 193.0,431.7 193.6,421.9 194.1,421.2 194.7,431.7 195.2,428.5 195.8,423.9 196.4,412.3 196.9,423.6 197.5,423.5 198.0,412.0 198.6,428.7 199.1,423.4 199.7,401.3 200.3,419.2 200.8,406.8 201.4,427.1 201.9,423.9 202.5,407.3 203.1,408.9 203.6,417.0 204.2,413.9 204.7,428.5 205.3,421.8 205.8,413.2 206.4,420.4 207.0,398.9 207.5,418.2 208.1,422.8 208.6,414.5 209.2,410.4 209.8,420.9 210.3,432.3 210.9,418.5 211.4,408.1 212.0,429.0 212.5,402.6 213.1,422.1 213.7,413.6 214.2,426.2 214.8,412.0 215.3,430.2 215.9,422.1 216.4,405.5 217.0,403.7 217.6,417.9 218.1,431.9 218.7,422.2 219.2,421.9 219.8,419.5 220.4,428.2 220.9,425.2 221.5,424.5 222.0,413.2 222.6,432.7 223.1,434.3 223.7,410.1 224.3,442.5 224.8,428.0 225.4,416.8 225.9,403.8 226.5,426.6 227.0,425.4 227.6,414.7 228.2,403.6 228.7,429.8 229.3,414.0 229.8,414.9 230.4,445.1 231.0,438.5 231.5,427.8 232.1,415.0 232.6,425.2 233.2,398.8 233.7,420.7 234.3,413.2 234.9,408.7 235.4,406.4 236.0,425.7 236.5,422.2 237.1,423.2 237.7,429.6 238.2,414.8 238.8,411.6 239.3,407.1 239.9,420.2 240.4,430.2 241.0,422.2 241.6,429.4 242.1,413.4 242.7,419.8 243.2,417.4 243.8,413.4 244.3,440.2 244.9,431.8 245.5,418.6 246.0,419.0 246.6,425.4 247.1,414.8 247.7,430.8 248.3,417.8 248.8,426.2 249.4,422.0 249.9,427.6 250.5,422.0 251.0,421.3 251.6,427.6 252.2,431.3 252.7,436.0 253.3,440.6 253.8,455.1 254.4,450.4 254.9,442.0 255.5,452.7 256.1,440.3 256.6,462.6 257.2,454.8 257.7,436.3 258.3,458.9 258.9,460.3 259.4,423.9 260.0,444.6 260.5,447.6 261.1,432.4 261.6,441.1 262.2,441.7 262.8,454.5 263.3,450.5 263.9,466.9 264.4,438.8 265.0,444.6 265.6,432.3 266.1,427.8 266.7,419.4 267.2,417.1 267.8,423.9 268.3,435.8 268.9,447.0 269.5,447.5 270.0,451.6 270.6,445.8 271.1,466.0 271.7,467.1 272.2,454.8 272.8,460.2 273.4,454.3 273.9,474.8 274.5,467.7 275.0,464.9 275.6,469.9 276.2,471.1 276.7,465.3 277.3,459.5 277.8,459.9 278.4,457.0 278.9,475.4 279.5,490.4 280.1,458.9 280.6,474.5 281.2,477.1 281.7,465.7 282.3,476.0 282.8,465.1 283.4,484.7 284.0,469.5 284.5,475.4 285.1,480.3 285.6,470.8 286.2,459.2 286.8,469.8 287.3,480.5 287.9,473.3 288.4,475.9 289.0,465.1 289.5,475.1 290.1,479.9 290.7,474.4 291.2,489.4 291.8,472.8 292.3,466.6 292.9,462.6 293.5,483.9 294.0,475.1 294.6,483.3 295.1,479.5 295.7,488.2 296.2,485.9 296.8,474.7 297.4,479.6 297.9,485.6 298.5,469.9 299.0,488.7 299.6,487.4 300.1,486.1 300.7,478.3 301.3,482.0 301.8,472.4 302.4,480.7 302.9,476.4 303.5,481.3 304.1,477.4 304.6,483.1 305.2,489.8 305.7,471.6 306.3,488.3 306.8,466.5 307.4,465.2 308.0,480.8 308.5,481.9 309.1,485.4 309.6,469.0 310.2,481.6 310.7,483.2 311.3,492.3 311.9,481.5 312.4,486.7 313.0,474.7 313.5,481.1 314.1,479.1 314.7,488.3 315.2,475.0 315.8,476.3 316.3,487.4 316.9,496.8 317.4,486.0 318.0,485.5 318.6,480.6 319.1,491.3 319.7,487.3 320.2,495.9 320.8,485.9 321.4,477.1 321.9,479.9 322.5,477.3 323.0,475.8 323.6,492.6 324.1,489.8 324.7,476.9 325.3,496.3 325.8,486.9 326.4,479.9 326.9,488.5 327.5,486.2 328.0,482.4 328.6,476.0 329.2,488.1 329.7,490.1 330.3,473.7 330.8,492.5 331.4,493.3 332.0,487.3 332.5,491.0 333.1,488.9 333.6,485.8 334.2,488.7 334.7,499.1 335.3,482.1 335.9,492.3 336.4,491.8 337.0,486.2 337.5,487.6 338.1,481.4 338.6,484.5 339.2,489.6 339.8,491.2 340.3,483.0 340.9,508.1 341.4,484.3 342.0,488.5 342.6,485.7 343.1,484.1 343.7,495.4 344.2,482.7 344.8,495.2 345.3,493.6 345.9,477.2 346.5,492.4 347.0,479.3 347.6,505.3 348.1,480.7 348.7,476.0 349.3,467.8 349.8,472.6 350.4,478.4 350.9,474.8 351.5,472.8 352.0,477.4 352.6,481.7 353.2,496.1 353.7,469.0 354.3,479.2 354.8,475.8 355.4,471.2 355.9,473.5 356.5,476.9 357.1,491.2 357.6,483.6 358.2,480.8 358.7,491.0 359.3,488.4 359.9,484.3 360.4,489.8 361.0,479.7 361.5,492.3 362.1,491.2 362.6,484.1 363.2,477.8 363.8,500.4 364.3,489.1 364.9,512.9 365.4,483.7 366.0,495.7 366.5,486.0 367.1,491.5 367.7,496.1 368.2,484.1 368.8,489.5 369.3,491.6 369.9,491.5 370.5,495.1 371.0,498.2 371.6,497.0 372.1,493.3 372.7,489.4 373.2,484.5 373.8,487.3 374.4,488.9 374.9,496.7 375.5,490.4 376.0,485.3 376.6,496.8 377.2,488.5 377.7,489.0 378.3,492.4 378.8,496.7 379.4,480.4 379.9,488.1 380.5,495.8 381.1,493.1 381.6,490.6 382.2,492.7 382.7,504.2 383.3,493.9 383.8,501.1 384.4,502.0 385.0,495.1 385.5,500.8 386.1,495.7 386.6,495.1 387.2,492.1 387.8,505.2 388.3,497.3 388.9,496.5 389.4,492.8 390.0,512.9 390.5,505.9 391.1,500.0 391.7,496.1 392.2,490.2 392.8,503.1 393.3,503.1 393.9,490.8 394.4,509.4 395.0,506.5 395.6,493.7 396.1,496.6 396.7,497.5 397.2,501.7 397.8,499.4 398.4,488.3 398.9,511.3 399.5,502.6 400.0,509.6 400.6,509.6 401.1,498.7 401.7,502.8 402.3,505.8 402.8,506.1 403.4,499.2 403.9,495.9 404.5,500.8 405.1,494.7 405.6,496.6 406.2,485.8 406.7,501.5 407.3,493.4 407.8,497.0 408.4,500.9 409.0,503.7 409.5,515.7 410.1,503.3 410.6,491.2 411.2,503.1 411.7,497.8 412.3,505.7 412.9,497.6 413.4,497.7 414.0,499.5 414.5,499.0 415.1,489.6 415.7,499.3 416.2,505.2 416.8,515.9 417.3,503.6 417.9,503.4 418.4,512.2 419.0,512.3 419.6,522.5 420.1,513.6 420.7,508.2 421.2,521.5 421.8,523.8 422.3,504.4 422.9,510.8 423.5,492.3 424.0,505.7 424.6,500.3 425.1,507.2 425.7,504.4 426.3,507.7 426.8,508.3 427.4,514.5 427.9,511.7 428.5,503.4 429.0,495.7 429.6,522.1 430.2,523.9 430.7,504.4 431.3,514.8 431.8,493.4 432.4,493.2 433.0,506.2 433.5,523.3 434.1,498.6 434.6,500.7 435.2,523.9 435.7,491.1 436.3,514.6 436.9,513.0 437.4,506.9 438.0,510.3 438.5,530.7 439.1,499.6 439.6,506.4 440.2,507.2 440.8,504.0 441.3,499.5 441.9,521.1 442.4,511.3 443.0,498.0 443.6,505.6 444.1,513.2 444.7,513.4 445.2,502.1 445.8,510.8 446.3,513.1 446.9,514.1 447.5,514.3 448.0,501.8 448.6,522.8 449.1,513.7 449.7,522.7 450.2,528.7 450.8,511.8 451.4,505.8 451.9,517.5 452.5,511.6 453.0,509.9 453.6,506.4 454.2,522.0 454.7,509.5 455.3,503.6 455.8,509.0 456.4,504.5 456.9,512.3 457.5,508.5 458.1,504.2 458.6,514.6 459.2,506.3 459.7,515.1 460.3,518.5 460.9,507.4 461.4,505.2 462.0,510.7 462.5,515.3 463.1,508.8 463.6,509.6 464.2,508.1 464.8,510.3 465.3,512.3 465.9,502.6 466.4,503.9 467.0,507.5 467.5,502.2 468.1,507.9 468.7,510.7 469.2,506.5 469.8,502.3 470.3,501.0 470.9,519.6 471.5,513.3 472.0,498.8 472.6,501.0 473.1,521.1 473.7,518.7 474.2,508.7 474.8,516.5 475.4,497.0 475.9,508.2 476.5,513.9 477.0,494.2 477.6,502.3 478.1,514.2 478.7,516.8 479.3,503.3 479.8,509.9 480.4,519.8 480.9,504.2 481.5,496.4 482.1,506.0 482.6,503.1 483.2,516.2 483.7,506.8 484.3,498.9 484.8,524.0 485.4,500.5 486.0,507.8 486.5,509.0 487.1,509.2 487.6,503.7 488.2,506.1 488.8,500.0 489.3,488.4 489.9,496.1 490.4,494.3 491.0,492.0 491.5,491.2 492.1,482.1 492.7,489.6 493.2,484.2 493.8,457.0 494.3,460.1 494.9,449.7 495.4,438.6 496.0,445.6 496.6,445.1 497.1,452.0 497.7,458.8 498.2,475.9 498.8,485.3 499.4,486.3 499.9,494.8 500.5,493.3 501.0,498.8 501.6,494.5 502.1,503.2 502.7,498.8 503.3,509.7 503.8,515.0 504.4,511.7 504.9,520.2 505.5,534.1 506.0,493.1 506.6,512.0 507.2,507.5 507.7,508.9 508.3,501.8 508.8,513.7 509.4,511.4 510.0,508.7 510.5,511.8 511.1,509.4 511.6,496.6 512.2,521.6 512.7,511.8 513.3,507.3 513.9,516.0 514.4,509.4 515.0,499.5 515.5,519.6 516.1,502.9 516.7,512.3 517.2,514.4 517.8,522.3 518.3,521.3 518.9,514.6 519.4,508.4 520.0,510.6 520.6,520.9 521.1,525.9 521.7,517.2 522.2,508.5 522.8,521.0 523.3,510.3 523.9,509.9 524.5,510.9 525.0,518.0 525.6,515.4 526.1,521.6 526.7,524.5 527.3,517.6 527.8,491.8 528.4,497.3 528.9,514.5 529.5,512.4 530.0,533.7 530.6,512.8 531.2,511.7 531.7,522.3 532.3,523.6 532.8,511.0 533.4,517.9 533.9,502.4 534.5,504.3 535.1,525.4 535.6,499.9 536.2,522.5 536.7,520.2 537.3,521.1 537.9,522.5 538.4,519.2 539.0,493.0 539.5,504.0 540.1,507.9 540.6,522.7 541.2,502.6 541.8,506.7 542.3,510.1 542.9,526.9 543.4,498.9 544.0,499.6 544.6,520.0 545.1,491.0 545.7,516.9 546.2,508.3 546.8,496.0 547.3,508.4 547.9,501.8 548.5,514.8 549.0,517.0 549.6,529.9 550.1,512.5 550.7,513.8 551.2,505.7 551.8,512.2 552.4,524.8 552.9,489.5 553.5,520.1 554.0,505.9 554.6,513.1 555.2,516.0 555.7,522.1 556.3,514.9 556.8,507.6 557.4,515.7 557.9,512.3 558.5,509.9 559.1,514.5 559.6,521.9 560.2,513.9 560.7,514.2 561.3,498.8 561.8,511.4 562.4,493.3 563.0,520.7 563.5,503.6 564.1,527.2 564.6,545.0 565.2,510.1 565.8,528.3 566.3,519.1 566.9,509.4 567.4,506.8 568.0,521.5 568.5,530.3 569.1,519.7 569.7,500.6 570.2,505.5 570.8,513.9 571.3,529.9 571.9,518.8 572.5,518.9 573.0,527.2 573.6,513.1 574.1,513.8 574.7,512.5 575.2,497.3 575.8,517.5 576.4,516.4 576.9,520.8 577.5,501.2 578.0,503.9 578.6,518.5 579.1,512.7 579.7,521.1 580.3,501.4 580.8,510.0 581.4,501.8 581.9,509.9 582.5,502.3 583.1,510.9 583.6,515.3 584.2,511.0 584.7,487.1 585.3,512.2 585.8,506.7 586.4,491.1 587.0,491.4 587.5,498.9 588.1,503.0 588.6,490.7 589.2,476.4 589.7,493.3 590.3,488.9 590.9,508.0 591.4,465.6 592.0,497.4 592.5,482.0 593.1,459.1 593.7,459.4 594.2,431.2 594.8,419.6 595.3,384.9 595.9,363.8 596.4,330.2 597.0,303.7 597.6,293.8 598.1,293.7 598.7,314.8 599.2,344.5 599.8,365.9 600.4,393.0 600.9,415.5 601.5,419.5 602.0,447.5 602.6,456.4 603.1,464.6 603.7,463.0 604.3,461.4 604.8,479.9 605.4,488.1 605.9,499.4 606.5,500.2 607.0,504.8 607.6,498.0 608.2,505.6 608.7,496.3 609.3,503.8 609.8,507.0 610.4,520.9 611.0,503.5 611.5,493.1 612.1,512.9 612.6,498.0 613.2,503.7 613.7,502.7 614.3,499.0 614.9,514.7 615.4,510.1 616.0,502.7 616.5,507.6 617.1,504.8 617.6,511.9 618.2,506.1 618.8,504.0 619.3,505.2 619.9,506.7 620.4,511.4 621.0,504.2 621.6,509.3 622.1,512.4 622.7,523.5 623.2,514.2 623.8,491.1 624.3,504.9 624.9,504.5 625.5,507.1 626.0,511.7 626.6,505.0 627.1,488.5 627.7,496.6 628.3,492.1 628.8,489.3 629.4,488.3 629.9,481.2 630.5,486.6 631.0,481.7 631.6,489.5 632.2,494.1 632.7,506.1 633.3,494.2 633.8,490.3 634.4,505.5 634.9,498.3 635.5,513.8 636.1,499.2 636.6,498.4 637.2,514.0 637.7,505.9 638.3,513.1 638.9,494.7 639.4,518.7 640.0,501.2 640.5,512.5 641.1,497.9 641.6,493.5 642.2,504.0 642.8,507.6 643.3,519.3 643.9,509.2 644.4,512.3 645.0,511.9 645.5,532.7 646.1,499.5 646.7,517.1 647.2,505.2 647.8,508.8 648.3,501.9 648.9,516.5 649.5,495.9 650.0,495.3 650.6,504.9 651.1,496.7 651.7,512.7 652.2,514.7 652.8,500.3 653.4,513.6 653.9,501.2 654.5,506.6 655.0,507.1 655.6,523.2 656.2,507.4 656.7,499.8 657.3,500.0 657.8,518.1 658.4,494.4 658.9,504.7 659.5,505.8 660.1,489.2 660.6,505.8 661.2,518.0 661.7,512.1 662.3,503.5 662.8,516.3 663.4,515.1 664.0,526.9 664.5,505.9 665.1,508.7 665.6,512.0 666.2,510.8 666.8,512.4 667.3,511.0 667.9,506.8 668.4,500.5 669.0,507.8 669.5,502.0 670.1,504.4 670.7,507.9 671.2,515.1 671.8,517.6 672.3,504.5 672.9,513.8 673.4,517.2 674.0,511.3 674.6,499.9 675.1,496.1 675.7,516.7 676.2,517.3 676.8,512.5 677.4,502.6 677.9,520.1 678.5,518.0 679.0,508.5 679.6,506.8 680.1,493.8 680.7,513.1 681.3,495.6 681.8,512.2 682.4,512.5 682.9,507.7 683.5,518.8 684.1,504.9 684.6,511.9 685.2,513.8 685.7,510.2 686.3,505.7 686.8,518.4 687.4,513.0 688.0,509.0 688.5,509.7 689.1,512.5 689.6,529.2 690.2,513.2 690.7,510.9 691.3,504.8 691.9,503.8 692.4,498.6 693.0,515.3 693.5,513.6 694.1,505.3 694.7,501.7 695.2,510.4 695.8,508.7 696.3,502.2 696.9,514.3 697.4,512.7 698.0,510.9 698.6,516.6 699.1,505.8 699.7,520.0 700.2,502.5 700.8,513.2 701.3,513.7 701.9,507.1 702.5,511.2 703.0,499.6 703.6,498.0 704.1,507.1 704.7,503.5 705.3,512.7 705.8,509.1 706.4,513.2 706.9,511.5 707.5,511.0 708.0,510.6 708.6,507.9 709.2,507.7 709.7,524.2 710.3,500.1 710.8,510.5 711.4,518.5 712.0,514.9 712.5,521.5 713.1,516.0 713.6,504.2 714.2,510.3 714.7,503.2 715.3,518.4 715.9,521.1 716.4,508.7 717.0,514.6 717.5,508.1 718.1,501.1 718.6,507.0 719.2,499.3 719.8,505.4 720.3,510.0 720.9,513.0 721.4,516.4 722.0,505.5 722.6,509.0 723.1,510.2 723.7,511.1 724.2,488.3 724.8,502.4 725.3,513.2 725.9,500.7 726.5,510.3 727.0,514.7 727.6,496.8 728.1,508.8 728.7,512.2 729.2,511.2 729.8,501.2 730.4,514.5 730.9,508.7 731.5,518.7 732.0,516.3 732.6,509.5 733.2,514.8 733.7,508.7 734.3,508.6 734.8,502.1 735.4,511.7 735.9,519.0 736.5,513.7 737.1,512.3 737.6,507.5 738.2,507.8 738.7,516.3 739.3,499.7 739.9,524.0 740.4,508.2 741.0,522.5 741.5,514.3 742.1,502.1 742.6,507.8 743.2,502.4 743.8,500.8 744.3,499.2 744.9,487.8 745.4,482.8 746.0,478.3 746.5,469.3 747.1,467.7 747.7,465.5 748.2,465.0 748.8,467.7 749.3,470.8 749.9,481.0 750.5,474.0 751.0,486.3 751.6,490.5 752.1,501.0 752.7,502.4 753.2,505.5 753.8,501.9 754.4,509.7 754.9,497.0 755.5,505.5 756.0,490.1 756.6,518.9 757.1,518.5 757.7,502.5 758.3,500.8 758.8,491.5 759.4,496.0 759.9,508.8 760.5,506.8 761.1,496.8 761.6,504.4 762.2,503.2 762.7,512.0 763.3,513.8 763.8,506.8 764.4,509.4 765.0,508.6 765.5,493.2 766.1,510.0 766.6,508.2 767.2,514.2 767.8,495.7 768.3,514.2 768.9,504.4 769.4,510.8 770.0,517.3 770.5,499.0 771.1,500.2 771.7,515.7 772.2,501.6 772.8,502.9 773.3,513.2 773.9,508.0 774.4,514.5 775.0,511.5 775.6,509.5 776.1,516.2 776.7,524.4 777.2,509.4 777.8,520.1 778.4,518.0 778.9,511.2 779.5,513.8 780.0,504.2 780.6,506.5 781.1,513.1 781.7,510.9 782.3,521.1 782.8,501.6 783.4,509.3 783.9,506.7 784.5,510.5 785.0,521.0 785.6,502.0 786.2,518.6 786.7,506.8 787.3,508.9 787.8,519.6 788.4,509.0 789.0,516.6 789.5,512.0 790.1,509.4 790.6,507.8 791.2,496.6 791.7,504.3 792.3,511.4 792.9,511.5 793.4,498.2 794.0,517.3 794.5,513.8 795.1,499.7 795.7,501.7 796.2,512.9 796.8,496.8 797.3,504.0 797.9,508.8 798.4,508.3 799.0,508.8 799.6,511.7 800.1,504.4 800.7,506.4 801.2,521.3 801.8,501.5 802.3,507.0 802.9,510.2 803.5,506.3 804.0,516.0 804.6,510.3 805.1,513.8 805.7,497.5 806.3,516.0 806.8,515.9 807.4,507.2 807.9,517.1 808.5,512.5 809.0,515.8 809.6,520.4 810.2,512.6 810.7,507.6 811.3,512.8 811.8,506.8 812.4,509.5 812.9,510.0 813.5,510.5 814.1,521.3 814.6,519.9 815.2,510.2 815.7,522.7 816.3,505.7 816.9,512.2 817.4,515.7 818.0,525.0 818.5,522.1 819.1,520.3 819.6,526.6 820.2,522.3 820.8,527.2 821.3,510.6 821.9,503.2 822.4,512.8 823.0,522.3 823.6,517.4 824.1,522.1 824.7,520.2 825.2,518.3 825.8,520.4 826.3,507.4 826.9,521.9 827.5,504.3 828.0,511.3 828.6,500.5 829.1,515.9 829.7,499.2 830.2,522.5 830.8,500.7 831.4,513.1 831.9,509.9 832.5,504.2 833.0,520.1 833.6,507.5 834.2,521.2 834.7,503.2 835.3,504.8 835.8,496.5 836.4,514.3 836.9,516.7 837.5,512.0 838.1,509.4 838.6,504.4 839.2,526.2 839.7,515.6 840.3,498.7 840.8,508.9 841.4,493.9 842.0,521.7 842.5,524.5 843.1,521.4 843.6,511.4 844.2,508.0 844.8,502.6 845.3,516.0 845.9,507.3 846.4,510.0 847.0,508.2 847.5,510.7 848.1,519.6 848.7,525.6 849.2,514.3 849.8,513.3 850.3,504.6 850.9,503.6 851.5,504.8 852.0,519.9 852.6,514.8 853.1,520.4 853.7,516.0 854.2,509.2 854.8,502.3 855.4,509.2 855.9,500.4 856.5,528.1 857.0,513.9 857.6,508.6 858.1,527.9 858.7,508.4 859.3,516.1 859.8,510.3 860.4,514.6 860.9,508.9 861.5,516.0 862.1,523.6 862.6,503.0 863.2,496.1 863.7,523.8 864.3,515.3 864.8,521.0 865.4,512.9 866.0,526.8 866.5,529.3 867.1,508.1 867.6,521.8 868.2,513.0 868.7,506.2 869.3,515.9 869.9,522.3 870.4,508.5 871.0,509.2 871.5,527.6 872.1,518.8 872.7,521.6 873.2,510.0 873.8,513.5 874.3,519.2 874.9,519.6 875.4,519.1 876.0,530.3 876.6,518.9 877.1,505.1 877.7,510.1 878.2,516.5 878.8,527.3 879.4,510.8 879.9,513.0 880.5,515.9 881.0,509.8 881.6,508.6 882.1,513.4 882.7,523.9 883.3,519.3 883.8,512.3 884.4,518.2 884.9,502.9 885.5,523.2 886.0,520.7 886.6,516.5 887.2,498.7 887.7,532.2 888.3,486.2 888.8,503.8 889.4,504.3 890.0,519.4 890.5,498.5 891.1,514.9 891.6,511.1 892.2,509.6 892.7,520.8 893.3,526.5 893.9,516.4 894.4,509.7 895.0,489.6 895.5,527.4 896.1,509.5 896.6,493.7 897.2,514.4 897.8,527.9 898.3,511.6 898.9,500.9 899.4,537.0 900.0,519.9 900.6,517.3 901.1,524.6 901.7,491.0 902.2,513.5 902.8,512.6 903.3,538.5 903.9,508.9 904.5,509.3 905.0,500.8 905.6,507.0 906.1,513.6 906.7,518.6 907.3,514.2 907.8,536.3 908.4,521.5 908.9,523.1 909.5,530.2 910.0,523.3 910.6,512.7 911.2,503.7 911.7,521.1 912.3,510.6 912.8,529.5 913.4,511.5 913.9,499.4 914.5,518.3 915.1,526.6 915.6,516.1 916.2,519.0 916.7,518.6 917.3,530.2 917.9,519.2 918.4,516.4 919.0,511.9 919.5,504.3 920.1,526.0 920.6,523.8 921.2,508.5 921.8,519.4 922.3,517.2 922.9,512.0 923.4,512.2 924.0,519.8 924.5,505.4 925.1,510.2 925.7,513.4 926.2,513.8 926.8,512.2 927.3,515.4 927.9,517.8 928.5,506.6 929.0,514.2 929.6,509.3 930.1,525.6 930.7,502.2 931.2,511.7 931.8,519.3 932.4,511.4 932.9,511.1 933.5,509.6 934.0,516.5 934.6,505.0 935.2,513.8 935.7,513.8 936.3,503.6 936.8,517.1 937.4,511.8 937.9,517.7 938.5,521.9 939.1,518.3 939.6,507.8 940.2,518.5 940.7,505.4 941.3,511.3 941.8,527.7 942.4,516.6 943.0,526.7 943.5,515.4 944.1,516.4 944.6,509.2 945.2,521.6 945.8,514.2 946.3,518.3 946.9,516.2 947.4,515.4 948.0,512.5 948.5,508.4 949.1,505.8 949.7,500.4 950.2,494.1 950.8,498.9 951.3,502.9 951.9,503.7 952.4,512.3 953.0,509.8 953.6,506.1 954.1,507.8 954.7,519.5 955.2,518.7 955.8,516.6 956.4,523.6 956.9,513.0 957.5,523.4 958.0,517.9 958.6,521.3 959.1,529.3 959.7,519.1 960.3,530.9 960.8,530.5 961.4,513.6 961.9,538.5 962.5,508.8 963.1,518.0 963.6,524.8 964.2,498.5 964.7,526.9 965.3,527.7 965.8,516.4 966.4,519.6 967.0,519.0 967.5,515.0 968.1,526.8 968.6,513.3 969.2,516.4 969.7,520.3 970.3,525.0 970.9,527.6 971.4,503.1 972.0,498.0 972.5,516.4 973.1,517.5 973.7,507.9 974.2,521.6 974.8,525.1 975.3,523.1 975.9,535.6 976.4,510.3 977.0,520.8 977.6,539.5 978.1,527.9 978.7,511.0 979.2,524.0 979.8,533.6 980.3,542.5 980.9,529.2 981.5,534.2 982.0,512.6 982.6,521.0 983.1,534.8 983.7,514.5 984.3,523.1 984.8,506.2 985.4,537.6 985.9,522.6 986.5,529.1 987.0,510.0 987.6,511.9 988.2,540.6 988.7,520.8 989.3,519.0 989.8,528.6 990.4,528.9 991.0,506.2 991.5,515.0 992.1,524.2 992.6,523.7 993.2,526.7 993.7,519.5 994.3,520.7 994.9,525.0 995.4,516.8 996.0,515.3 996.5,517.6 997.1,522.3 997.6,520.7 998.2,517.5 998.8,519.3 999.3,520.9 999.9,523.9 1000.4,524.1 1001.0,509.1 1001.6,529.0 1002.1,505.7 1002.7,524.6 1003.2,513.2 1003.8,524.3 1004.3,528.2 1004.9,501.9 1005.5,523.4 1006.0,520.1 1006.6,513.3 1007.1,520.2 1007.7,512.1 1008.2,516.7 1008.8,506.2 1009.4,520.7 1009.9,518.1 1010.5,518.2 1011.0,505.8 1011.6,523.5 1012.2,522.3 1012.7,504.7 1013.3,499.7 1013.8,496.5 1014.4,499.2 1014.9,495.8 1015.5,480.6 1016.1,469.2 1016.6,472.7 1017.2,465.3 1017.7,462.6 1018.3,463.6 1018.9,462.3 1019.4,471.5 1020.0,476.6 1020.5,486.0 1021.1,496.4 1021.6,494.8 1022.2,493.5 1022.8,510.0 1023.3,509.4 1023.9,505.4 1024.4,495.8 1025.0,503.7 1025.5,512.2 1026.1,516.1 1026.7,509.1 1027.2,516.8 1027.8,509.5 1028.3,511.6 1028.9,519.1 1029.5,513.6 1030.0,517.0 1030.6,522.8 1031.1,524.9 1031.7,512.6 1032.2,515.4 1032.8,507.9 1033.4,508.5 1033.9,520.3 1034.5,514.9 1035.0,506.0 1035.6,523.1 1036.1,514.0 1036.7,518.1 1037.3,523.5 1037.8,523.9 1038.4,521.2 1038.9,508.8 1039.5,526.2 1040.1,518.9 1040.6,513.7 1041.2,508.8 1041.7,532.4 1042.3,524.7 1042.8,524.6 1043.4,528.0 1044.0,523.4 1044.5,514.0 1045.1,528.4 1045.6,530.5 1046.2,527.1 1046.8,534.1 1047.3,536.7 1047.9,517.5 1048.4,519.9 1049.0,529.4 1049.5,524.2 1050.1,524.4 1050.7,529.9 1051.2,528.5 1051.8,519.3 1052.3,523.8 1052.9,517.2 1053.4,521.4 1054.0,513.9 1054.6,506.9 1055.1,519.1 1055.7,518.3 1056.2,530.7 1056.8,536.4 1057.4,523.6 1057.9,527.3 1058.5,518.2 1059.0,515.9 1059.6,521.1 1060.1,521.0 1060.7,525.5 1061.3,524.0 1061.8,535.3 1062.4,521.4 1062.9,511.2 1063.5,523.6 1064.0,518.2 1064.6,524.0 1065.2,529.8 1065.7,518.4 1066.3,521.9 1066.8,525.5 1067.4,516.7 1068.0,523.5 1068.5,525.4 1069.1,526.9 1069.6,528.4 1070.2,525.3 1070.7,524.4 1071.3,514.7 1071.9,507.7 1072.4,517.2 1073.0,530.3 1073.5,523.3 1074.1,510.4 1074.7,520.7 1075.2,525.3 1075.8,513.0 1076.3,527.1 1076.9,517.5 1077.4,530.7 1078.0,525.1 1078.6,544.3 1079.1,517.3 1079.7,527.9 1080.2,516.8 1080.8,534.7 1081.3,528.2 1081.9,534.2 1082.5,528.7 1083.0,519.4 1083.6,523.3 1084.1,518.6 1084.7,519.9 1085.3,529.3 1085.8,536.7 1086.4,534.7 1086.9,531.4 1087.5,521.8 1088.0,530.4 1088.6,517.9 1089.2,526.5 1089.7,531.4 1090.3,521.6 1090.8,518.4 1091.4,518.1 1091.9,527.1 1092.5,518.2 1093.1,507.5 1093.6,516.4 1094.2,510.2 1094.7,533.7 1095.3,519.8 1095.9,506.0 1096.4,521.9 1097.0,526.0 1097.5,522.8 1098.1,516.1 1098.6,520.6 1099.2,521.7 1099.8,527.8 1100.3,522.1 1100.9,538.1 1101.4,516.9 1102.0,531.2 1102.6,518.5 1103.1,504.4 1103.7,508.6 1104.2,503.4 1104.8,504.1 1105.3,526.5 1105.9,512.0 1106.5,521.3 1107.0,510.0 1107.6,516.3 1108.1,508.6 1108.7,522.2 1109.2,514.1 1109.8,512.6 1110.4,514.5 1110.9,530.1 1111.5,518.4 1112.0,520.8 1112.6,507.4 1113.2,511.2 1113.7,517.0 1114.3,503.9 1114.8,522.9 1115.4,516.4 1115.9,514.5 1116.5,513.2 1117.1,512.7 1117.6,510.8 1118.2,520.7 1118.7,516.2 1119.3,518.4 1119.8,509.2 1120.4,505.2 1121.0,515.4 1121.5,500.8 1122.1,502.0 1122.6,506.0 1123.2,504.7 1123.8,490.5 1124.3,490.8 1124.9,486.8 1125.4,480.1 1126.0,471.0 1126.5,468.1 1127.1,459.0 1127.7,455.7 1128.2,451.6 1128.8,458.7 1129.3,460.0 1129.9,474.0 1130.5,480.6 1131.0,483.2 1131.6,491.3 1132.1,495.5 1132.7,497.9 1133.2,503.5 1133.8,503.3 1134.4,503.3 1134.9,503.0 1135.5,518.8 1136.0,511.2 1136.6,510.8 1137.1,516.3 1137.7,510.0 1138.3,510.5 1138.8,517.9 1139.4,520.8 1139.9,518.8 1140.5,504.5 1141.1,515.3 1141.6,515.0 1142.2,518.6 1142.7,509.1 1143.3,507.9 1143.8,515.0 1144.4,509.2 1145.0,507.9 1145.5,515.7 1146.1,523.7 1146.6,517.5 1147.2,525.7 1147.7,508.4 1148.3,522.6 1148.9,516.7 1149.4,509.5 1150.0,513.5 1150.5,509.9 1151.1,515.5 1151.7,511.1 1152.2,528.4 1152.8,514.9 1153.3,506.2 1153.9,516.7 1154.4,521.8 1155.0,516.3 1155.6,526.2 1156.1,512.2 1156.7,513.1 1157.2,533.0 1157.8,520.6 1158.4,525.2 1158.9,525.2 1159.5,526.2 1160.0,522.5 1160.6,521.1 1161.1,531.2 1161.7,519.7 1162.3,524.7 1162.8,529.5 1163.4,521.5 1163.9,513.0 1164.5,528.8 1165.0,534.0 1165.6,527.7 1166.2,512.2 1166.7,531.1 1167.3,542.1 1167.8,513.0 1168.4,503.0 1169.0,523.5 1169.5,526.0 1170.1,531.8 1170.6,531.9 1171.2,525.4 1171.7,529.0 1172.3,526.9 1172.9,524.7 1173.4,522.8 1174.0,521.7 1174.5,529.1 1175.1,526.2 1175.6,518.5 1176.2,532.1 1176.8,515.4 1177.3,519.8 1177.9,523.1 1178.4,504.4 1179.0,518.3 1179.6,529.5 1180.1,529.2 1180.7,510.8 1181.2,514.2 1181.8,512.0 1182.3,519.6 1182.9,521.2 1183.5,507.5 1184.0,524.7 1184.6,522.5 1185.1,521.3 1185.7,516.0 1186.3,520.3 1186.8,506.5 1187.4,523.9 1187.9,523.7 1188.5,521.0 1189.0,512.1 1189.6,532.3 1190.2,530.9 1190.7,506.8 1191.3,524.9 1191.8,522.7 1192.4,501.9 1192.9,525.3 1193.5,526.1 1194.1,526.5 1194.6,522.4 1195.2,516.6 1195.7,517.7 1196.3,524.7 1196.9,529.1 1197.4,518.3 1198.0,519.9 1198.5,526.3 1199.1,509.1 1199.6,525.4 1200.2,521.8 1200.8,510.8 1201.3,528.8 1201.9,519.6 1202.4,530.1 1203.0,534.1 1203.5,519.5 1204.1,520.3 1204.7,527.7 1205.2,517.8 1205.8,532.9 1206.3,529.9 1206.9,535.0 1207.5,517.5 1208.0,530.2 1208.6,531.8 1209.1,517.2 1209.7,534.2 1210.2,519.2 1210.8,529.1 1211.4,518.8 1211.9,532.6 1212.5,538.7 1213.0,527.2 1213.6,526.9 1214.2,535.9 1214.7,523.2 1215.3,526.8 1215.8,532.7 1216.4,529.9 1216.9,538.9 1217.5,536.5 1218.1,542.5 1218.6,528.0 1219.2,537.4 1219.7,522.6 1220.3,536.9 1220.8,544.4 1221.4,549.9 1222.0,521.1 1222.5,530.5 1223.1,538.3 1223.6,525.5 1224.2,537.9 1224.8,538.2 1225.3,529.8 1225.9,529.6 1226.4,526.3 1227.0,536.9 1227.5,545.0 1228.1,536.5 1228.7,557.0 1229.2,521.1 1229.8,528.1 1230.3,537.7 1230.9,522.6 1231.4,533.7 1232.0,536.6 1232.6,530.9 1233.1,527.1 1233.7,535.1 1234.2,530.4 1234.8,531.9 1235.4,529.9 1235.9,520.6 1236.5,517.0 1237.0,521.6 1237.6,525.1 1238.1,522.1 1238.7,529.7 1239.3,524.6 1239.8,529.3 1240.4,523.2 1240.9,517.4 1241.5,528.0 1242.1,525.5 1242.6,516.3 1243.2,519.3 1243.7,541.2 1244.3,499.2 1244.8,530.0 1245.4,522.9 1246.0,522.2 1246.5,520.8 1247.1,519.6 1247.6,539.4 1248.2,520.7 1248.7,521.9 1249.3,529.8 1249.9,527.3 1250.4,523.8 1251.0,523.5 1251.5,516.6 1252.1,533.7 1252.7,519.2 1253.2,509.9 1253.8,534.7 1254.3,533.0 1254.9,530.4 1255.4,524.5 1256.0,537.3 1256.6,520.9 1257.1,512.8 1257.7,530.5 1258.2,535.6 1258.8,534.5 1259.3,546.0 1259.9,536.6 1260.5,528.4 1261.0,528.8 1261.6,537.6 1262.1,530.1 1262.7,529.6 1263.3,516.2 1263.8,528.2 1264.4,520.0 1264.9,532.9 1265.5,532.1 1266.0,537.0 1266.6,546.3 1267.2,529.3 1267.7,543.3 1268.3,520.8 1268.8,531.9 1269.4,538.8 1270.0,547.5 1270.5,520.4 1271.1,527.7 1271.6,531.0 1272.2,528.7 1272.7,520.9 1273.3,514.7 1273.9,518.1 1274.4,528.0 1275.0,516.6 1275.5,543.9 1276.1,538.8 1276.6,511.0 1277.2,523.2 1277.8,538.9 1278.3,539.8 1278.9,536.6 1279.4,514.2 1280.0,523.3 1280.6,537.3 1281.1,527.0 1281.7,522.0 1282.2,530.1 1282.8,534.0 1283.3,526.7 1283.9,527.4 1284.5,534.2 1285.0,520.6 1285.6,517.7 1286.1,531.3 1286.7,515.4 1287.2,529.0 1287.8,519.3 1288.4,531.7 1288.9,515.9 1289.5,533.9 1290.0,527.5 1290.6,523.1 1291.2,519.0 1291.7,524.5 1292.3,519.0 1292.8,517.2 1293.4,534.4 1293.9,531.1 1294.5,536.2 1295.1,517.3 1295.6,513.2 1296.2,516.2 1296.7,533.4 1297.3,535.1 1297.9,515.2 1298.4,537.7 1299.0,526.9 1299.5,521.3 1300.1,530.6 1300.6,536.2 1301.2,530.4 1301.8,531.1 1302.3,526.1 1302.9,521.7 1303.4,530.8 1304.0,520.6 1304.5,540.0 1305.1,527.9 1305.7,547.2 1306.2,522.2 1306.8,549.1 1307.3,529.1 1307.9,529.3 1308.5,540.4 1309.0,546.3 1309.6,538.0 1310.1,535.3 1310.7,557.4 1311.2,543.8 1311.8,528.0 1312.4,536.9 1312.9,555.3 1313.5,542.7 1314.0,547.4 1314.6,558.7 1315.1,534.2 1315.7,543.2 1316.3,533.6 1316.8,539.7 1317.4,544.6 1317.9,527.5 1318.5,541.0 1319.1,540.9 1319.6,549.0 1320.2,534.2 1320.7,528.2 1321.3,542.8 1321.8,529.5 1322.4,540.7 1323.0,543.9 1323.5,531.4 1324.1,537.6 1324.6,529.8 1325.2,514.6 1325.8,526.0 1326.3,520.6 1326.9,537.5 1327.4,528.5 1328.0,535.6 1328.5,536.0 1329.1,544.4 1329.7,532.9 1330.2,532.1 1330.8,538.7 1331.3,546.8 1331.9,533.4 1332.4,536.1 1333.0,531.7 1333.6,527.4 1334.1,520.7 1334.7,531.3 1335.2,529.5 1335.8,529.3 1336.4,545.4 1336.9,527.9 1337.5,532.5 1338.0,527.2 1338.6,538.0 1339.1,527.0 1339.7,542.4 1340.3,526.7 1340.8,533.9 1341.4,535.4 1341.9,526.1 1342.5,533.8 1343.0,527.8 1343.6,521.7 1344.2,522.1 1344.7,529.1 1345.3,539.5 1345.8,522.8 1346.4,530.1 1347.0,520.1 1347.5,527.7 1348.1,516.1 1348.6,519.8 1349.2,525.5 1349.7,519.9 1350.3,523.5 1350.9,533.1 1351.4,524.7 1352.0,520.4 1352.5,516.6 1353.1,522.2 1353.7,535.3 1354.2,526.2 1354.8,526.1 1355.3,533.2 1355.9,534.6 1356.4,536.4 1357.0,526.0 1357.6,521.9 1358.1,516.1 1358.7,524.4 1359.2,527.3 1359.8,536.8 1360.3,533.7 1360.9,526.2 1361.5,539.0 1362.0,520.3 1362.6,522.1 1363.1,520.9 1363.7,521.6 1364.3,529.3 1364.8,523.7 1365.4,524.4 1365.9,544.2 1366.5,517.6 1367.0,521.5 1367.6,529.0 1368.2,535.5 1368.7,535.9 1369.3,528.5 1369.8,527.4 1370.4,528.2 1370.9,538.0 1371.5,521.5 1372.1,507.4 1372.6,532.0 1373.2,518.6 1373.7,529.1 1374.3,542.8 1374.9,530.1 1375.4,546.4 1376.0,513.7 1376.5,530.6 1377.1,531.8 1377.6,535.5 1378.2,521.1 1378.8,529.0 1379.3,528.6 1379.9,528.2 1380.4,515.5 1381.0,512.7 1381.6,532.1 1382.1,530.6 1382.7,528.2 1383.2,533.3 1383.8,537.0 1384.3,519.7 1384.9,535.1 1385.5,540.6 1386.0,537.3 1386.6,534.5 1387.1,535.6 1387.7,520.7 1388.2,527.8 1388.8,538.6 1389.4,541.9 1389.9,535.3 1390.5,529.6 1391.0,531.9 1391.6,538.4 1392.2,545.7 1392.7,538.2 1393.3,530.5 1393.8,537.3 1394.4,536.3 1394.9,547.3 1395.5,537.2 1396.1,534.1 1396.6,533.5 1397.2,527.6 1397.7,528.7 1398.3,531.6 1398.8,530.0 1399.4,534.7 1400.0,534.3 1400.5,538.0 1401.1,540.4 1401.6,534.4 1402.2,532.9 1402.8,525.9 1403.3,535.2"/>
<polyline stroke="#000000" points="101.5,548.3 102.1,502.4 102.6,534.1 103.2,525.4 103.7,528.1 104.3,532.1 104.8,515.3 105.4,535.5 106.0,530.9 106.5,575.8 107.1,546.1 107.6,542.3 108.2,545.2 108.8,543.5 109.3,541.9 109.9,550.7 110.4,561.4 111.0,556.5 111.5,570.0 112.1,561.0 112.7,565.0 113.2,580.8 113.8,573.2 114.3,565.2 114.9,569.6 115.4,577.4 116.0,590.9 116.6,572.4 117.1,573.5 117.7,585.4 118.2,569.5 118.8,575.5 119.4,586.7 119.9,584.7 120.5,581.1 121.0,587.2 121.6,555.7 122.1,592.3 122.7,574.4 123.3,568.3 123.8,588.0 124.4,593.1 124.9,582.3 125.5,576.4 126.1,588.3 126.6,587.9 127.2,603.8 127.7,597.1 128.3,591.3 128.8,601.3 129.4,587.3 130.0,579.7 130.5,595.8 131.1,595.8 131.6,587.7 132.2,582.3 132.7,592.5 133.3,566.9 133.9,597.3 134.4,595.8 135.0,577.4 135.5,592.8 136.1,584.7 136.7,599.6 137.2,577.5 137.8,587.1 138.3,600.5 138.9,604.3 139.4,579.1 140.0,592.3 140.6,598.9 141.1,592.0 141.7,609.0 142.2,588.0 142.8,599.9 143.3,589.3 143.9,608.2 144.5,597.5 145.0,595.0 145.6,584.9 146.1,611.2 146.7,604.3 147.3,604.6 147.8,607.8 148.4,602.1 148.9,594.7 149.5,593.7 150.0,594.0 150.6,611.2 151.2,589.3 151.7,596.3 152.3,598.7 152.8,603.3 153.4,606.3 154.0,591.7 154.5,587.9 155.1,602.0 155.6,612.1 156.2,608.3 156.7,603.8 157.3,599.2 157.9,604.2 158.4,599.4 159.0,608.4 159.5,593.9 160.1,601.9 160.6,599.3 161.2,605.1 161.8,601.8 162.3,624.6 162.9,614.2 163.4,614.2 164.0,576.5 164.6,594.3 165.1,590.9 165.7,603.7 166.2,570.2 166.8,611.5 167.3,610.3 167.9,580.2 168.5,584.0 169.0,586.1 169.6,597.4 170.1,605.7 170.7,625.6 171.2,594.3 171.8,608.3 172.4,599.8 172.9,623.4 173.5,609.1 174.0,618.7 174.6,583.2 175.2,596.7 175.7,587.9 176.3,622.7 176.8,610.6 177.4,596.8 177.9,595.0 178.5,609.2 179.1,592.1 179.6,589.1 180.2,610.1 180.7,639.0 181.3,600.2 181.9,596.2 182.4,588.1 183.0,586.5 183.5,612.3 184.1,616.8 184.6,606.2 185.2,610.8 185.8,608.5 186.3,609.3 186.9,590.4 187.4,603.5 188.0,610.4 188.5,601.2 189.1,605.0 189.7,601.9 190.2,607.2 190.8,619.2 191.3,606.8 191.9,609.3 192.5,618.4 193.0,616.6 193.6,626.0 194.1,590.9 194.7,617.6 195.2,605.0 195.8,610.4 196.4,616.6 196.9,618.7 197.5,618.2 198.0,609.4 198.6,623.8 199.1,604.5 199.7,605.8 200.3,615.7 200.8,601.0 201.4,631.2 201.9,618.7 202.5,632.4 203.1,606.7 203.6,602.5 204.2,609.3 204.7,616.5 205.3,600.0 205.8,612.5 206.4,607.5 207.0,629.1 207.5,599.3 208.1,622.2 208.6,599.7 209.2,595.6 209.8,599.1 210.3,592.7 210.9,611.1 211.4,623.3 212.0,611.7 212.5,618.1 213.1,632.0 213.7,613.7 214.2,612.8 214.8,606.7 215.3,588.9 215.9,621.1 216.4,587.5 217.0,620.1 217.6,611.4 218.1,627.0 218.7,611.3 219.2,601.5 219.8,617.5 220.4,605.6 220.9,611.0 221.5,614.3 222.0,612.2 222.6,611.9 223.1,603.6 223.7,612.6 224.3,586.7 224.8,613.7 225.4,600.1 225.9,631.8 226.5,634.3 227.0,591.1 227.6,619.9 228.2,616.7 228.7,604.7 229.3,626.5 229.8,613.4 230.4,596.1 231.0,616.9 231.5,618.9 232.1,622.8 232.6,604.9 233.2,630.4 233.7,632.4 234.3,606.9 234.9,613.8 235.4,622.0 236.0,615.5 236.5,647.2 237.1,626.4 237.7,610.0 238.2,613.2 238.8,623.1 239.3,654.6 239.9,621.7 240.4,625.9 241.0,630.9 241.6,623.9 242.1,653.0 242.7,618.2 243.2,633.9 243.8,627.0 244.3,632.5 244.9,612.4 245.5,645.3 246.0,625.0 246.6,627.1 247.1,617.7 247.7,620.4 248.3,633.6 248.8,638.1 249.4,636.3 249.9,641.0 250.5,637.2 251.0,631.8 251.6,639.7 252.2,638.4 252.7,633.3 253.3,641.4 253.8,647.3 254.4,639.3 254.9,635.3 255.5,645.9 256.1,657.6 256.6,640.2 257.2,642.6 257.7,643.5 258.3,657.2 258.9,630.5 259.4,651.9 260.0,660.8 260.5,643.1 261.1,665.5 261.6,657.2 262.2,647.4 262.8,654.5 263.3,638.0 263.9,646.1 264.4,664.9 265.0,638.9 265.6,653.0 266.1,632.6 266.7,629.1 267.2,624.9 267.8,620.6 268.3,635.5 268.9,646.5 269.5,639.2 270.0,639.5 270.6,656.9 271.1,648.7 271.7,639.9 272.2,650.6 272.8,666.5 273.4,654.6 273.9,669.1 274.5,675.7 275.0,662.5 275.6,652.5 276.2,652.0 276.7,664.8 277.3,674.1 277.8,669.3 278.4,672.6 278.9,664.5 279.5,671.8 280.1,665.6 280.6,667.4 281.2,659.5 281.7,657.5 282.3,667.1 282.8,662.0 283.4,663.4 284.0,677.0 284.5,670.5 285.1,695.3 285.6,678.8 286.2,665.8 286.8,677.2 287.3,673.6 287.9,664.8 288.4,679.6 289.0,663.6 289.5,643.9 290.1,677.0 290.7,664.6 291.2,683.3 291.8,664.3 292.3,659.7 292.9,684.5 293.5,661.0 294.0,672.9 294.6,684.6 295.1,673.0 295.7,671.7 296.2,674.0 296.8,681.2 297.4,667.3 297.9,680.6 298.5,681.0 299.0,696.8 299.6,674.8 300.1,670.8 300.7,685.4 301.3,676.8 301.8,683.1 302.4,682.5 302.9,691.4 303.5,677.3 304.1,682.3 304.6,663.4 305.2,676.9 305.7,696.3 306.3,679.1 306.8,679.2 307.4,675.3 308.0,689.6 308.5,686.6 309.1,675.9 309.6,690.7 310.2,687.5 310.7,691.5 311.3,680.4 311.9,699.4 312.4,688.8 313.0,684.6 313.5,681.4 314.1,683.6 314.7,692.4 315.2,683.4 315.8,694.1 316.3,690.2 316.9,696.3 317.4,692.3 318.0,685.8 318.6,672.3 319.1,689.1 319.7,693.1 320.2,688.9 320.8,692.2 321.4,685.5 321.9,686.7 322.5,683.4 323.0,699.8 323.6,692.2 324.1,688.3 324.7,683.2 325.3,691.5 325.8,702.7 326.4,696.4 326.9,688.7 327.5,703.4 328.0,703.6 328.6,700.7 329.2,699.4 329.7,702.0 330.3,697.8 330.8,699.3 331.4,688.7 332.0,704.3 332.5,695.6 333.1,707.9 333.6,680.1 334.2,699.1 334.7,701.1 335.3,692.4 335.9,698.1 336.4,700.5 337.0,699.7 337.5,692.6 338.1,695.8 338.6,704.2 339.2,706.5 339.8,699.0 340.3,699.4 340.9,700.7 341.4,707.0 342.0,692.5 342.6,690.7 343.1,701.5 343.7,692.4 344.2,696.3 344.8,701.5 345.3,704.6 345.9,692.2 346.5,707.0 347.0,686.1 347.6,704.8 348.1,686.9 348.7,689.1 349.3,705.2 349.8,696.0 350.4,692.4 350.9,695.2 351.5,703.2 352.0,698.4 352.6,698.5 353.2,708.5 353.7,691.9 354.3,694.1 354.8,693.6 355.4,709.5 355.9,707.9 356.5,710.7 357.1,698.2 357.6,697.0 358.2,706.7 358.7,694.9 359.3,706.7 359.9,705.8 360.4,692.6 361.0,698.7 361.5,698.6 362.1,716.2 362.6,724.3 363.2,699.9 363.8,701.4 364.3,681.0 364.9,704.1 365.4,702.6 366.0,693.7 366.5,710.6 367.1,690.6 367.7,702.9 368.2,706.4 368.8,695.2 369.3,713.4 369.9,715.5 370.5,695.9 371.0,696.3 371.6,712.9 372.1,708.3 372.7,699.4 373.2,706.9 373.8,708.6 374.4,708.6 374.9,716.1 375.5,712.9 376.0,723.2 376.6,720.3 377.2,715.1 377.7,717.9 378.3,719.6 378.8,715.1 379.4,701.1 379.9,716.0 380.5,710.3 381.1,721.6 381.6,710.5 382.2,713.8 382.7,712.5 383.3,722.6 383.8,711.8 384.4,708.7 385.0,713.4 385.5,708.0 386.1,713.0 386.6,712.1 387.2,714.8 387.8,728.6 388.3,710.2 388.9,714.3 389.4,712.7 390.0,720.5 390.5,704.9 391.1,709.4 391.7,715.3 392.2,720.7 392.8,715.6 393.3,711.6 393.9,708.2 394.4,720.7 395.0,729.0 395.6,718.7 396.1,717.3 396.7,719.4 397.2,706.8 397.8,712.2 398.4,712.4 398.9,717.1 399.5,714.1 400.0,703.6 400.6,723.8 401.1,728.5 401.7,711.6 402.3,717.2 402.8,716.0 403.4,720.4 403.9,701.3 404.5,727.4 405.1,710.0 405.6,724.6 406.2,714.8 406.7,711.1 407.3,713.3 407.8,722.0 408.4,707.6 409.0,711.8 409.5,711.1 410.1,701.1 410.6,726.4 411.2,720.7 411.7,716.0 412.3,726.2 412.9,708.8 413.4,716.5 414.0,732.0 414.5,726.2 415.1,699.8 415.7,691.0 416.2,710.7 416.8,728.9 417.3,716.6 417.9,719.3 418.4,726.8 419.0,714.8 419.6,724.6 420.1,730.1 420.7,727.8 421.2,727.7 421.8,719.6 422.3,729.6 422.9,721.8 423.5,737.2 424.0,748.7 424.6,719.7 425.1,706.9 425.7,722.6 426.3,730.0 426.8,736.2 427.4,736.5 427.9,719.1 428.5,718.8 429.0,738.0 429.6,715.3 430.2,736.0 430.7,723.0 431.3,732.4 431.8,731.5 432.4,732.0 433.0,732.1 433.5,713.6 434.1,726.4 434.6,723.4 435.2,726.2 435.7,735.6 436.3,720.2 436.9,715.8 437.4,715.7 438.0,720.1 438.5,730.8 439.1,715.6 439.6,735.0 440.2,726.7 440.8,722.0 441.3,711.7 441.9,726.7 442.4,730.9 443.0,708.2 443.6,735.4 444.1,739.4 444.7,727.3 445.2,728.5 445.8,745.5 446.3,734.7 446.9,715.4 447.5,723.0 448.0,721.6 448.6,721.4 449.1,701.2 449.7,729.5 450.2,716.6 450.8,724.1 451.4,721.4 451.9,730.9 452.5,720.3 453.0,715.8 453.6,728.6 454.2,737.3 454.7,721.3 455.3,737.9 455.8,727.7 456.4,720.5 456.9,740.9 457.5,718.5 458.1,736.9 458.6,722.4 459.2,732.2 459.7,715.8 460.3,720.0 460.9,739.4 461.4,730.8 462.0,729.5 462.5,724.9 463.1,734.1 463.6,715.4 464.2,718.4 464.8,728.3 465.3,721.5 465.9,723.0 466.4,729.5 467.0,728.9 467.5,728.2 468.1,747.6 468.7,741.0 469.2,743.3 469.8,730.6 470.3,726.0 470.9,716.7 471.5,727.9 472.0,711.1 472.6,726.1 473.1,739.2 473.7,747.4 474.2,741.2 474.8,724.5 475.4,736.9 475.9,725.5 476.5,739.6 477.0,731.5 477.6,739.5 478.1,753.0 478.7,739.3 479.3,749.6 479.8,732.9 480.4,728.9 480.9,740.3 481.5,742.3 482.1,726.5 482.6,730.2 483.2,720.2 483.7,727.6 484.3,733.7 484.8,727.3 485.4,723.9 486.0,718.5 486.5,728.1 487.1,729.8 487.6,727.9 488.2,725.0 488.8,715.6 489.3,730.7 489.9,719.5 490.4,717.2 491.0,719.3 491.5,702.5 492.1,708.9 492.7,704.2 493.2,700.8 493.8,697.4 494.3,687.1 494.9,674.3 495.4,672.8 496.0,672.1 496.6,674.3 497.1,676.4 497.7,681.9 498.2,696.4 498.8,702.6 499.4,706.9 499.9,703.3 500.5,724.8 501.0,702.9 501.6,719.2 502.1,735.6 502.7,724.2 503.3,728.1 503.8,720.5 504.4,737.6 504.9,721.6 505.5,732.4 506.0,732.3 506.6,725.1 507.2,738.7 507.7,723.5 508.3,728.9 508.8,733.9 509.4,731.5 510.0,738.1 510.5,741.7 511.1,733.2 511.6,731.6 512.2,731.9 512.7,733.2 513.3,742.1 513.9,734.4 514.4,739.2 515.0,735.5 515.5,729.7 516.1,742.8 516.7,728.0 517.2,736.1 517.8,747.7 518.3,727.2 518.9,735.4 519.4,723.0 520.0,731.5 520.6,723.4 521.1,732.4 521.7,730.8 522.2,736.2 522.8,748.0 523.3,737.2 523.9,740.1 524.5,734.2 525.0,732.5 525.6,727.5 526.1,719.5 526.7,734.6 527.3,747.1 527.8,737.6 528.4,729.4 528.9,746.7 529.5,730.0 530.0,728.4 530.6,723.8 531.2,725.7 531.7,731.1 532.3,748.0 532.8,731.3 533.4,725.1 533.9,728.3 534.5,731.1 535.1,720.4 535.6,733.8 536.2,738.1 536.7,735.6 537.3,737.8 537.9,724.7 538.4,722.2 539.0,743.8 539.5,742.9 540.1,724.6 540.6,737.6 541.2,736.7 541.8,741.0 542.3,739.0 542.9,734.0 543.4,739.5 544.0,739.5 544.6,737.9 545.1,723.6 545.7,714.4 546.2,731.8 546.8,724.8 547.3,739.5 547.9,742.9 548.5,738.9 549.0,733.5 549.6,736.7 550.1,745.1 550.7,729.8 551.2,742.5 551.8,740.6 552.4,737.0 552.9,746.0 553.5,729.3 554.0,741.8 554.6,727.8 555.2,729.1 555.7,727.1 556.3,738.0 556.8,728.2 557.4,735.2 557.9,727.1 558.5,742.1 559.1,747.2 559.6,736.4 560.2,745.6 560.7,738.5 561.3,748.7 561.8,735.3 562.4,724.6 563.0,743.8 563.5,733.4 564.1,727.5 564.6,729.7 565.2,723.3 565.8,732.3 566.3,726.3 566.9,742.5 567.4,737.0 568.0,721.5 568.5,722.2 569.1,728.3 569.7,718.9 570.2,731.0 570.8,731.4 571.3,726.2 571.9,727.8 572.5,735.0 573.0,741.5 573.6,742.1 574.1,732.0 574.7,737.9 575.2,726.9 575.8,735.1 576.4,725.6 576.9,737.6 577.5,724.0 578.0,726.1 578.6,733.0 579.1,737.1 579.7,723.2 580.3,729.6 580.8,734.4 581.4,735.1 581.9,727.6 582.5,734.1 583.1,731.5 583.6,743.2 584.2,737.1 584.7,723.6 585.3,717.2 585.8,733.2 586.4,740.5 587.0,733.0 587.5,737.5 588.1,727.3 588.6,720.6 589.2,734.6 589.7,729.2 590.3,732.3 590.9,716.7 591.4,726.1 592.0,718.9 592.5,726.5 593.1,714.7 593.7,711.4 594.2,707.8 594.8,714.7 595.3,700.9 595.9,688.6 596.4,677.8 597.0,666.0 597.6,662.7 598.1,632.6 598.7,619.6 599.2,610.4 599.8,606.2 600.4,608.3 600.9,624.5 601.5,642.2 602.0,660.8 602.6,671.7 603.1,693.0 603.7,695.0 604.3,711.3 604.8,700.8 605.4,719.3 605.9,708.3 606.5,709.6 607.0,726.5 607.6,719.1 608.2,730.3 608.7,720.6 609.3,742.0 609.8,731.1 610.4,723.3 611.0,734.2 611.5,740.5 612.1,728.1 612.6,738.7 613.2,751.3 613.7,742.3 614.3,735.5 614.9,731.1 615.4,740.3 616.0,723.6 616.5,711.3 617.1,730.0 617.6,726.4 618.2,748.6 618.8,735.4 619.3,726.0 619.9,724.1 620.4,736.7 621.0,725.6 621.6,726.9 622.1,730.1 622.7,730.8 623.2,730.1 623.8,729.5 624.3,737.7 624.9,739.6 625.5,713.7 626.0,742.9 626.6,724.1 627.1,729.5 627.7,715.2 628.3,718.9 628.8,715.6 629.4,712.5 629.9,712.7 630.5,710.8 631.0,706.6 631.6,711.0 632.2,717.2 632.7,720.3 633.3,717.5 633.8,719.9 634.4,722.4 634.9,716.9 635.5,716.3 636.1,739.8 636.6,724.8 637.2,729.5 637.7,722.9 638.3,740.9 638.9,745.3 639.4,728.5 640.0,735.1 640.5,724.3 641.1,746.2 641.6,739.0 642.2,724.0 642.8,741.7 643.3,734.2 643.9,734.6 644.4,734.1 645.0,725.7 645.5,726.8 646.1,736.0 646.7,730.6 647.2,723.7 647.8,746.2 648.3,729.4 648.9,726.9 649.5,726.0 650.0,735.9 650.6,737.8 651.1,732.8 651.7,737.0 652.2,721.6 652.8,729.1 653.4,728.7 653.9,731.9 654.5,735.0 655.0,719.9 655.6,751.1 656.2,727.5 656.7,734.8 657.3,737.8 657.8,738.1 658.4,734.7 658.9,717.1 659.5,727.6 660.1,738.1 660.6,728.7 661.2,728.0 661.7,720.7 662.3,740.9 662.8,736.9 663.4,728.9 664.0,733.2 664.5,733.3 665.1,727.3 665.6,732.1 666.2,735.1 666.8,736.8 667.3,741.1 667.9,733.4 668.4,730.2 669.0,735.5 669.5,728.8 670.1,724.5 670.7,740.3 671.2,729.9 671.8,733.2 672.3,736.8 672.9,724.2 673.4,736.7 674.0,735.3 674.6,731.1 675.1,734.8 675.7,725.9 676.2,714.4 676.8,729.4 677.4,724.3 677.9,738.5 678.5,733.6 679.0,727.1 679.6,731.8 680.1,742.5 680.7,740.8 681.3,734.5 681.8,735.0 682.4,729.3 682.9,730.6 683.5,736.4 684.1,730.8 684.6,734.2 685.2,723.1 685.7,719.0 686.3,718.9 686.8,728.6 687.4,742.0 688.0,740.8 688.5,724.5 689.1,720.3 689.6,737.5 690.2,735.0 690.7,721.5 691.3,739.0 691.9,732.5 692.4,740.7 693.0,733.4 693.5,737.2 694.1,732.9 694.7,723.3 695.2,728.4 695.8,724.9 696.3,736.0 696.9,722.0 697.4,717.7 698.0,734.5 698.6,737.9 699.1,740.2 699.7,737.4 700.2,717.0 700.8,723.4 701.3,724.6 701.9,728.8 702.5,712.2 703.0,729.2 703.6,731.7 704.1,722.4 704.7,731.0 705.3,739.6 705.8,731.2 706.4,739.3 706.9,739.4 707.5,735.2 708.0,735.5 708.6,730.2 709.2,742.8 709.7,730.3 710.3,729.0 710.8,739.9 711.4,729.4 712.0,738.3 712.5,743.4 713.1,736.1 713.6,736.3 714.2,742.6 714.7,741.3 715.3,723.3 715.9,724.8 716.4,745.3 717.0,737.7 717.5,717.6 718.1,723.0 718.6,733.7 719.2,725.1 719.8,736.6 720.3,733.1 720.9,736.2 721.4,721.8 722.0,736.7 722.6,748.1 723.1,724.0 723.7,742.3 724.2,739.3 724.8,736.3 725.3,730.0 725.9,720.4 726.5,723.0 727.0,737.6 727.6,739.6 728.1,741.8 728.7,739.7 729.2,739.4 729.8,728.4 730.4,722.2 730.9,734.3 731.5,737.0 732.0,733.9 732.6,721.2 733.2,729.6 733.7,722.3 734.3,735.3 734.8,726.2 735.4,733.2 735.9,737.1 736.5,735.7 737.1,745.0 737.6,726.4 738.2,718.3 738.7,741.4 739.3,744.6 739.9,744.5 740.4,735.8 741.0,737.2 741.5,733.8 742.1,723.4 742.6,727.8 743.2,734.4 743.8,726.3 744.3,741.4 744.9,718.1 745.4,723.6 746.0,730.6 746.5,718.6 747.1,713.4 747.7,709.6 748.2,708.9 748.8,712.5 749.3,705.7 749.9,704.3 750.5,702.3 751.0,708.5 751.6,709.9 752.1,709.3 752.7,714.4 753.2,720.5 753.8,728.6 754.4,723.3 754.9,728.4 755.5,739.9 756.0,721.7 756.6,719.1 757.1,735.6 757.7,732.2 758.3,728.6 758.8,731.6 759.4,727.3 759.9,734.0 760.5,727.5 761.1,736.6 761.6,721.0 762.2,723.8 762.7,731.3 763.3,726.6 763.8,736.1 764.4,730.0 765.0,725.8 765.5,732.1 766.1,725.8 766.6,716.9 767.2,720.3 767.8,723.1 768.3,725.9 768.9,730.8 769.4,738.0 770.0,734.7 770.5,745.9 771.1,741.3 771.7,727.7 772.2,744.9 772.8,740.5 773.3,724.9 773.9,732.1 774.4,739.7 775.0,731.4 775.6,739.0 776.1,732.8 776.7,735.9 777.2,725.8 777.8,732.8 778.4,725.4 778.9,735.9 779.5,712.3 780.0,732.7 780.6,742.0 781.1,735.5 781.7,729.6 782.3,735.4 782.8,722.0 783.4,722.4 783.9,727.3 784.5,729.7 785.0,740.8 785.6,723.0 786.2,741.5 786.7,717.0 787.3,724.8 787.8,732.2 788.4,743.9 789.0,727.1 789.5,712.5 790.1,737.3 790.6,733.1 791.2,723.0 791.7,723.4 792.3,726.9 792.9,734.7 793.4,740.3 794.0,719.2 794.5,756.6 795.1,733.5 795.7,730.2 796.2,740.8 796.8,735.2 797.3,757.9 797.9,745.4 798.4,730.6 799.0,730.5 799.6,729.6 800.1,731.4 800.7,742.0 801.2,728.6 801.8,752.2 802.3,735.0 802.9,734.6 803.5,746.1 804.0,716.2 804.6,727.3 805.1,743.3 805.7,737.5 806.3,737.5 806.8,741.9 807.4,732.0 807.9,736.5 808.5,724.5 809.0,719.4 809.6,751.0 810.2,729.0 810.7,731.0 811.3,751.3 811.8,747.6 812.4,732.1 812.9,731.6 813.5,735.3 814.1,726.8 814.6,739.8 815.2,735.5 815.7,734.7 816.3,739.4 816.9,738.4 817.4,747.2 818.0,743.7 818.5,716.6 819.1,737.5 819.6,720.9 820.2,718.2 820.8,734.9 821.3,723.7 821.9,726.6 822.4,737.0 823.0,723.9 823.6,722.3 824.1,731.3 824.7,737.7 825.2,732.7 825.8,718.2 826.3,724.6 826.9,728.1 827.5,742.4 828.0,735.3 828.6,735.1 829.1,737.5 829.7,727.3 830.2,732.6 830.8,732.7 831.4,722.8 831.9,729.3 832.5,733.2 833.0,721.9 833.6,734.8 834.2,734.4 834.7,736.3 835.3,723.5 835.8,729.7 836.4,739.4 836.9,734.6 837.5,722.8 838.1,730.3 838.6,739.3 839.2,727.8 839.7,731.2 840.3,748.4 840.8,727.8 841.4,727.1 842.0,719.6 842.5,722.3 843.1,740.0 843.6,726.3 844.2,717.2 844.8,719.2 845.3,727.2 845.9,733.7 846.4,720.3 847.0,733.1 847.5,722.2 848.1,729.8 848.7,731.2 849.2,731.9 849.8,722.2 850.3,724.5 850.9,730.8 851.5,713.7 852.0,727.5 852.6,730.8 853.1,735.9 853.7,725.5 854.2,724.1 854.8,727.2 855.4,718.9 855.9,724.0 856.5,730.0 857.0,728.8 857.6,716.3 858.1,723.3 858.7,706.7 859.3,734.2 859.8,722.0 860.4,729.3 860.9,717.3 861.5,726.8 862.1,731.9 862.6,736.9 863.2,716.3 863.7,736.1 864.3,727.5 864.8,722.4 865.4,733.6 866.0,727.1 866.5,727.3 867.1,723.9 867.6,731.9 868.2,730.4 868.7,728.5 869.3,721.7 869.9,725.4 870.4,733.2 871.0,740.6 871.5,728.9 872.1,741.4 872.7,728.5 873.2,718.3 873.8,733.6 874.3,718.5 874.9,730.8 875.4,736.8 876.0,723.3 876.6,725.0 877.1,749.6 877.7,727.4 878.2,727.3 878.8,732.2 879.4,723.0 879.9,722.9 880.5,727.5 881.0,698.6 881.6,738.0 882.1,712.1 882.7,712.1 883.3,728.9 883.8,723.8 884.4,711.1 884.9,726.2 885.5,713.2 886.0,718.1 886.6,710.9 887.2,718.0 887.7,729.9 888.3,727.8 888.8,729.9 889.4,735.6 890.0,727.4 890.5,722.5 891.1,726.0 891.6,741.8 892.2,728.7 892.7,731.0 893.3,727.6 893.9,730.1 894.4,731.2 895.0,727.8 895.5,726.5 896.1,722.0 896.6,721.3 897.2,729.4 897.8,731.3 898.3,732.2 898.9,726.3 899.4,720.5 900.0,729.6 900.6,729.5 901.1,715.8 901.7,730.6 902.2,729.3 902.8,736.4 903.3,718.5 903.9,717.6 904.5,731.3 905.0,714.5 905.6,721.7 906.1,719.5 906.7,720.1 907.3,714.0 907.8,725.7 908.4,734.5 908.9,730.8 909.5,730.8 910.0,724.9 910.6,738.1 911.2,731.2 911.7,734.9 912.3,715.4 912.8,729.1 913.4,717.8 913.9,728.6 914.5,727.1 915.1,717.0 915.6,726.4 916.2,733.4 916.7,728.2 917.3,728.6 917.9,717.6 918.4,718.7 919.0,715.3 919.5,724.4 920.1,732.1 920.6,726.4 921.2,723.1 921.8,714.9 922.3,726.3 922.9,721.3 923.4,709.3 924.0,710.7 924.5,720.7 925.1,716.9 925.7,735.0 926.2,723.7 926.8,716.4 927.3,720.4 927.9,734.8 928.5,717.8 929.0,729.5 929.6,727.5 930.1,734.5 930.7,728.5 931.2,722.6 931.8,728.8 932.4,725.9 932.9,731.7 933.5,725.1 934.0,737.8 934.6,724.7 935.2,727.7 935.7,720.8 936.3,725.2 936.8,724.2 937.4,724.6 937.9,728.4 938.5,719.6 939.1,717.4 939.6,728.2 940.2,719.8 940.7,717.2 941.3,727.2 941.8,724.6 942.4,705.1 943.0,717.5 943.5,723.5 944.1,723.3 944.6,715.7 945.2,726.1 945.8,713.5 946.3,715.8 946.9,716.8 947.4,715.3 948.0,717.6 948.5,716.8 949.1,711.2 949.7,713.6 950.2,706.1 950.8,705.6 951.3,708.0 951.9,705.2 952.4,708.1 953.0,706.6 953.6,708.7 954.1,710.9 954.7,713.4 955.2,712.7 955.8,715.2 956.4,718.9 956.9,722.1 957.5,717.9 958.0,721.0 958.6,722.9 959.1,713.9 959.7,711.9 960.3,727.9 960.8,726.9 961.4,721.1 961.9,723.0 962.5,716.8 963.1,714.8 963.6,723.9 964.2,714.7 964.7,727.7 965.3,719.3 965.8,724.7 966.4,733.8 967.0,733.6 967.5,721.7 968.1,729.0 968.6,717.3 969.2,719.7 969.7,724.9 970.3,730.5 970.9,719.4 971.4,725.6 972.0,723.0 972.5,715.3 973.1,721.6 973.7,730.8 974.2,721.9 974.8,725.3 975.3,727.1 975.9,718.4 976.4,729.4 977.0,730.9 977.6,731.3 978.1,729.6 978.7,719.8 979.2,718.9 979.8,717.6 980.3,716.7 980.9,717.0 981.5,726.4 982.0,728.7 982.6,716.7 983.1,724.4 983.7,712.3 984.3,717.3 984.8,713.0 985.4,708.9 985.9,718.6 986.5,718.6 987.0,715.5 987.6,714.6 988.2,711.5 988.7,717.1 989.3,714.0 989.8,719.7 990.4,710.0 991.0,720.0 991.5,722.3 992.1,727.8 992.6,726.8 993.2,720.9 993.7,714.6 994.3,706.0 994.9,720.4 995.4,732.0 996.0,734.5 996.5,700.9 997.1,715.7 997.6,719.3 998.2,713.8 998.8,724.5 999.3,723.5 999.9,718.8 1000.4,723.2 1001.0,709.5 1001.6,715.0 1002.1,715.6 1002.7,731.7 1003.2,708.8 1003.8,721.4 1004.3,730.1 1004.9,722.4 1005.5,729.9 1006.0,716.5 1006.6,725.8 1007.1,729.5 1007.7,740.5 1008.2,726.9 1008.8,732.3 1009.4,719.7 1009.9,719.8 1010.5,730.8 1011.0,721.9 1011.6,727.2 1012.2,720.5 1012.7,729.0 1013.3,728.4 1013.8,705.0 1014.4,719.1 1014.9,707.9 1015.5,704.8 1016.1,698.9 1016.6,698.8 1017.2,690.5 1017.7,690.3 1018.3,690.1 1018.9,694.2 1019.4,698.8 1020.0,701.4 1020.5,703.0 1021.1,700.9 1021.6,696.4 1022.2,710.6 1022.8,710.6 1023.3,713.3 1023.9,721.7 1024.4,711.6 1025.0,712.1 1025.5,697.4 1026.1,718.5 1026.7,714.5 1027.2,709.6 1027.8,718.1 1028.3,707.7 1028.9,711.5 1029.5,730.3 1030.0,721.3 1030.6,722.7 1031.1,721.4 1031.7,720.6 1032.2,717.2 1032.8,732.8 1033.4,715.2 1033.9,721.3 1034.5,714.2 1035.0,713.2 1035.6,697.9 1036.1,701.7 1036.7,727.3 1037.3,726.9 1037.8,712.9 1038.4,715.9 1038.9,720.6 1039.5,708.9 1040.1,729.0 1040.6,708.6 1041.2,710.9 1041.7,696.0 1042.3,727.0 1042.8,716.4 1043.4,727.7 1044.0,708.4 1044.5,718.2 1045.1,716.2 1045.6,717.1 1046.2,731.2 1046.8,732.8 1047.3,726.2 1047.9,712.7 1048.4,722.8 1049.0,726.6 1049.5,720.7 1050.1,721.1 1050.7,720.8 1051.2,710.2 1051.8,719.6 1052.3,730.7 1052.9,710.4 1053.4,719.3 1054.0,725.6 1054.6,708.4 1055.1,718.5 1055.7,706.4 1056.2,715.2 1056.8,709.2 1057.4,713.4 1057.9,716.6 1058.5,718.3 1059.0,718.8 1059.6,703.0 1060.1,731.3 1060.7,718.2 1061.3,712.6 1061.8,715.6 1062.4,721.5 1062.9,713.2 1063.5,716.6 1064.0,716.1 1064.6,721.6 1065.2,714.2 1065.7,720.5 1066.3,719.7 1066.8,716.9 1067.4,723.7 1068.0,717.5 1068.5,711.7 1069.1,718.7 1069.6,717.8 1070.2,717.1 1070.7,718.4 1071.3,727.7 1071.9,718.5 1072.4,719.6 1073.0,716.7 1073.5,723.5 1074.1,717.7 1074.7,714.5 1075.2,712.7 1075.8,720.5 1076.3,721.6 1076.9,710.8 1077.4,714.7 1078.0,721.2 1078.6,723.1 1079.1,711.2 1079.7,715.7 1080.2,722.0 1080.8,714.5 1081.3,714.7 1081.9,713.9 1082.5,709.2 1083.0,716.9 1083.6,718.3 1084.1,707.5 1084.7,716.8 1085.3,723.3 1085.8,717.4 1086.4,722.4 1086.9,712.2 1087.5,725.7 1088.0,710.6 1088.6,729.9 1089.2,713.2 1089.7,711.4 1090.3,710.3 1090.8,714.0 1091.4,713.5 1091.9,712.1 1092.5,715.0 1093.1,722.7 1093.6,724.4 1094.2,714.7 1094.7,726.9 1095.3,709.1 1095.9,708.5 1096.4,707.3 1097.0,720.4 1097.5,703.0 1098.1,703.7 1098.6,724.2 1099.2,727.1 1099.8,723.7 1100.3,700.5 1100.9,712.1 1101.4,718.3 1102.0,711.9 1102.6,697.5 1103.1,707.6 1103.7,696.1 1104.2,699.8 1104.8,728.2 1105.3,715.8 1105.9,697.5 1106.5,697.3 1107.0,714.0 1107.6,705.1 1108.1,715.3 1108.7,705.0 1109.2,708.9 1109.8,712.8 1110.4,701.9 1110.9,694.3 1111.5,700.6 1112.0,704.9 1112.6,709.1 1113.2,710.2 1113.7,710.1 1114.3,714.8 1114.8,702.8 1115.4,721.8 1115.9,726.5 1116.5,712.5 1117.1,710.7 1117.6,718.9 1118.2,713.5 1118.7,709.2 1119.3,705.7 1119.8,700.5 1120.4,696.4 1121.0,709.2 1121.5,711.6 1122.1,693.7 1122.6,698.8 1123.2,698.3 1123.8,691.1 1124.3,685.5 1124.9,683.2 1125.4,670.0 1126.0,673.0 1126.5,665.3 1127.1,666.4 1127.7,658.5 1128.2,654.8 1128.8,659.0 1129.3,670.7 1129.9,678.3 1130.5,679.1 1131.0,683.3 1131.6,680.3 1132.1,690.6 1132.7,694.7 1133.2,693.3 1133.8,712.5 1134.4,688.5 1134.9,702.3 1135.5,707.4 1136.0,708.6 1136.6,718.9 1137.1,696.0 1137.7,701.5 1138.3,708.5 1138.8,709.1 1139.4,705.4 1139.9,702.7 1140.5,717.6 1141.1,700.9 1141.6,704.9 1142.2,721.4 1142.7,724.1 1143.3,717.3 1143.8,703.3 1144.4,703.5 1145.0,703.4 1145.5,701.6 1146.1,707.8 1146.6,722.4 1147.2,713.8 1147.7,705.7 1148.3,705.8 1148.9,702.5 1149.4,723.5 1150.0,695.5 1150.5,715.8 1151.1,700.9 1151.7,704.3 1152.2,700.6 1152.8,722.3 1153.3,713.0 1153.9,737.5 1154.4,704.6 1155.0,704.0 1155.6,718.1 1156.1,717.5 1156.7,710.2 1157.2,695.7 1157.8,723.4 1158.4,716.0 1158.9,714.2 1159.5,706.1 1160.0,715.2 1160.6,705.7 1161.1,709.8 1161.7,707.7 1162.3,718.0 1162.8,704.9 1163.4,705.5 1163.9,715.8 1164.5,709.1 1165.0,707.0 1165.6,705.2 1166.2,714.0 1166.7,701.6 1167.3,710.2 1167.8,722.9 1168.4,709.7 1169.0,699.7 1169.5,695.9 1170.1,707.7 1170.6,695.2 1171.2,691.6 1171.7,699.3 1172.3,696.0 1172.9,715.5 1173.4,692.1 1174.0,723.4 1174.5,699.2 1175.1,708.6 1175.6,714.8 1176.2,710.1 1176.8,715.8 1177.3,697.3 1177.9,683.4 1178.4,706.4 1179.0,690.5 1179.6,702.9 1180.1,719.6 1180.7,707.7 1181.2,703.9 1181.8,698.7 1182.3,707.7 1182.9,709.3 1183.5,695.8 1184.0,714.5 1184.6,701.7 1185.1,714.2 1185.7,708.3 1186.3,721.4 1186.8,720.2 1187.4,713.0 1187.9,712.1 1188.5,716.7 1189.0,724.4 1189.6,721.7 1190.2,714.5 1190.7,715.6 1191.3,725.2 1191.8,700.7 1192.4,717.0 1192.9,706.2 1193.5,722.6 1194.1,709.0 1194.6,711.6 1195.2,704.5 1195.7,712.2 1196.3,717.5 1196.9,723.5 1197.4,702.7 1198.0,708.4 1198.5,738.4 1199.1,717.6 1199.6,710.9 1200.2,714.4 1200.8,692.4 1201.3,721.4 1201.9,711.3 1202.4,700.5 1203.0,717.7 1203.5,705.6 1204.1,702.8 1204.7,712.8 1205.2,711.8 1205.8,706.1 1206.3,708.4 1206.9,700.3 1207.5,699.6 1208.0,714.0 1208.6,716.3 1209.1,710.7 1209.7,710.1 1210.2,705.4 1210.8,706.8 1211.4,701.9 1211.9,717.4 1212.5,703.8 1213.0,709.3 1213.6,706.9 1214.2,698.8 1214.7,717.7 1215.3,704.5 1215.8,702.2 1216.4,707.2 1216.9,701.4 1217.5,706.8 1218.1,701.2 1218.6,710.2 1219.2,707.4 1219.7,699.3 1220.3,713.6 1220.8,708.9 1221.4,701.4 1222.0,710.5 1222.5,711.3 1223.1,720.5 1223.6,703.9 1224.2,715.0 1224.8,709.3 1225.3,714.2 1225.9,708.8 1226.4,710.4 1227.0,714.3 1227.5,703.3 1228.1,697.4 1228.7,711.7 1229.2,709.0 1229.8,712.9 1230.3,717.0 1230.9,711.2 1231.4,721.3 1232.0,712.8 1232.6,714.0 1233.1,719.3 1233.7,717.7 1234.2,712.8 1234.8,714.4 1235.4,707.8 1235.9,708.7 1236.5,713.8 1237.0,718.8 1237.6,709.3 1238.1,718.4 1238.7,726.3 1239.3,727.5 1239.8,711.1 1240.4,718.5 1240.9,714.6 1241.5,715.5 1242.1,715.5 1242.6,712.6 1243.2,714.5 1243.7,709.1 1244.3,705.0 1244.8,708.9 1245.4,710.6 1246.0,716.4 1246.5,709.2 1247.1,712.2 1247.6,718.0 1248.2,697.8 1248.7,703.5 1249.3,710.5 1249.9,706.2 1250.4,697.3 1251.0,714.9 1251.5,705.8 1252.1,697.8 1252.7,723.5 1253.2,695.7 1253.8,707.1 1254.3,701.5 1254.9,708.6 1255.4,712.8 1256.0,700.7 1256.6,707.2 1257.1,707.0 1257.7,699.3 1258.2,718.8 1258.8,709.9 1259.3,705.8 1259.9,702.4 1260.5,705.2 1261.0,709.3 1261.6,703.9 1262.1,718.6 1262.7,685.6 1263.3,689.0 1263.8,704.9 1264.4,691.3 1264.9,706.1 1265.5,700.9 1266.0,710.9 1266.6,709.2 1267.2,716.2 1267.7,712.7 1268.3,715.1 1268.8,708.9 1269.4,712.9 1270.0,708.1 1270.5,699.3 1271.1,694.0 1271.6,694.1 1272.2,706.8 1272.7,685.0 1273.3,703.9 1273.9,696.8 1274.4,707.6 1275.0,703.4 1275.5,696.3 1276.1,701.7 1276.6,685.2 1277.2,703.2 1277.8,704.4 1278.3,688.1 1278.9,706.9 1279.4,700.0 1280.0,701.9 1280.6,690.9 1281.1,704.7 1281.7,704.4 1282.2,700.3 1282.8,693.7 1283.3,705.4 1283.9,708.6 1284.5,702.9 1285.0,706.8 1285.6,696.3 1286.1,701.1 1286.7,702.5 1287.2,700.9 1287.8,718.3 1288.4,702.7 1288.9,696.3 1289.5,705.3 1290.0,692.9 1290.6,702.4 1291.2,705.0 1291.7,696.9 1292.3,698.1 1292.8,694.2 1293.4,701.3 1293.9,696.2 1294.5,712.2 1295.1,705.3 1295.6,699.8 1296.2,692.1 1296.7,715.7 1297.3,711.2 1297.9,706.0 1298.4,704.5 1299.0,704.8 1299.5,700.7 1300.1,718.0 1300.6,706.4 1301.2,694.8 1301.8,700.9 1302.3,686.9 1302.9,711.8 1303.4,713.1 1304.0,721.3 1304.5,724.4 1305.1,702.3 1305.7,712.4 1306.2,717.1 1306.8,715.8 1307.3,705.6 1307.9,716.4 1308.5,714.2 1309.0,721.3 1309.6,710.2 1310.1,708.5 1310.7,706.4 1311.2,707.5 1311.8,704.4 1312.4,707.7 1312.9,714.1 1313.5,713.6 1314.0,719.9 1314.6,717.9 1315.1,714.2 1315.7,701.2 1316.3,713.3 1316.8,717.2 1317.4,700.0 1317.9,701.2 1318.5,702.2 1319.1,701.6 1319.6,706.4 1320.2,702.2 1320.7,710.4 1321.3,700.3 1321.8,707.0 1322.4,704.6 1323.0,701.7 1323.5,713.8 1324.1,707.7 1324.6,710.7 1325.2,705.4 1325.8,711.5 1326.3,711.0 1326.9,706.5 1327.4,696.9 1328.0,712.2 1328.5,711.4 1329.1,708.4 1329.7,708.7 1330.2,708.0 1330.8,708.4 1331.3,701.4 1331.9,706.9 1332.4,709.1 1333.0,703.5 1333.6,701.4 1334.1,717.9 1334.7,710.4 1335.2,704.9 1335.8,703.7 1336.4,690.9 1336.9,697.8 1337.5,704.5 1338.0,713.3 1338.6,693.4 1339.1,701.1 1339.7,716.1 1340.3,708.5 1340.8,706.7 1341.4,710.9 1341.9,702.9 1342.5,702.2 1343.0,707.1 1343.6,707.5 1344.2,696.0 1344.7,710.9 1345.3,691.2 1345.8,697.2 1346.4,719.5 1347.0,697.7 1347.5,704.6 1348.1,694.2 1348.6,698.4 1349.2,695.7 1349.7,697.8 1350.3,704.7 1350.9,712.1 1351.4,706.6 1352.0,711.6 1352.5,697.9 1353.1,712.0 1353.7,706.2 1354.2,712.5 1354.8,700.0 1355.3,701.8 1355.9,714.4 1356.4,709.2 1357.0,705.7 1357.6,699.8 1358.1,704.8 1358.7,709.9 1359.2,712.2 1359.8,701.5 1360.3,703.4 1360.9,710.2 1361.5,696.6 1362.0,714.6 1362.6,706.1 1363.1,704.7 1363.7,684.1 1364.3,691.1 1364.8,695.7 1365.4,699.5 1365.9,694.5 1366.5,707.4 1367.0,704.9 1367.6,700.9 1368.2,684.7 1368.7,715.1 1369.3,699.7 1369.8,707.2 1370.4,695.6 1370.9,701.2 1371.5,707.0 1372.1,702.6 1372.6,708.6 1373.2,698.2 1373.7,716.9 1374.3,682.7 1374.9,694.1 1375.4,707.2 1376.0,696.3 1376.5,694.5 1377.1,682.9 1377.6,708.3 1378.2,681.9 1378.8,702.3 1379.3,699.7 1379.9,705.4 1380.4,710.2 1381.0,692.8 1381.6,692.3 1382.1,696.5 1382.7,685.9 1383.2,705.9 1383.8,696.9 1384.3,701.5 1384.9,692.3 1385.5,701.1 1386.0,696.9 1386.6,701.2 1387.1,694.3 1387.7,709.7 1388.2,698.2 1388.8,685.3 1389.4,707.7 1389.9,701.5 1390.5,697.7 1391.0,720.9 1391.6,703.7 1392.2,695.1 1392.7,700.1 1393.3,706.9 1393.8,702.8 1394.4,712.7 1394.9,711.5 1395.5,699.1 1396.1,704.6 1396.6,708.7 1397.2,701.6 1397.7,701.2 1398.3,710.2 1398.8,707.3 1399.4,694.8 1400.0,700.5 1400.5,701.4 1401.1,703.3 1401.6,699.3 1402.2,713.2 1402.8,697.5 1403.3,696.7"/>
</g>
<g stroke="#8C146E" stroke-width="4.4" stroke-linecap="round">
<line x1="269.0" y1="914.2" x2="269.0" y2="926" />
<line x1="497.0" y1="906.2" x2="497.0" y2="926" />
<line x1="600.4" y1="902.3" x2="600.4" y2="926" />
<line x1="632.4" y1="901.2" x2="632.4" y2="926" />
<line x1="749.1" y1="897.0" x2="749.1" y2="926" />
<line x1="828.5" y1="894.1" x2="828.5" y2="926" />
<line x1="951.0" y1="890.2" x2="951.0" y2="926" />
<line x1="1019.5" y1="888.2" x2="1019.5" y2="926" />
<line x1="1128.5" y1="884.1" x2="1128.5" y2="926" />
<line x1="1191.5" y1="882.1" x2="1191.5" y2="926" />
<line x1="1212.5" y1="882.1" x2="1212.5" y2="926" />
<line x1="1294.0" y1="879.2" x2="1294.0" y2="926" />
<line x1="1354.5" y1="877.1" x2="1354.5" y2="926" />
<line x1="1373.5" y1="877.1" x2="1373.5" y2="926" />
</g>
<rect x="103" y="679" width="1299" height="2" fill="#000"/>
<g fill="#000">
<rect x="99" y="27" width="4" height="769"/>
<rect x="99" y="27" width="1306" height="4"/>
<rect x="1402" y="27" width="3" height="769"/>
<rect x="101" y="796" width="1.5" height="131"/>
<rect x="1402" y="796" width="2" height="131"/>
<rect x="100" y="926" width="1305" height="4"/>
<rect x="100.0" y="926" width="3" height="11"/>
<rect x="286.0" y="926" width="3" height="21"/>
<rect x="472.0" y="926" width="3" height="11"/>
<rect x="658.0" y="926" width="3" height="21"/>
<rect x="844.0" y="926" width="3" height="11"/>
<rect x="1030.0" y="926" width="3" height="21"/>
<rect x="1216.0" y="926" width="3" height="11"/>
<rect x="1402.0" y="926" width="3" height="21"/>
</g>
<g font-size="59" fill="#000">
<text x="101.5" y="1023" text-anchor="middle">10</text>
<text x="287.5" y="1023" text-anchor="middle">20</text>
<text x="473.5" y="1023" text-anchor="middle">30</text>
<text x="659.5" y="1023" text-anchor="middle">40</text>
<text x="845.5" y="1023" text-anchor="middle">50</text>
<text x="1031.5" y="1023" text-anchor="middle">60</text>
<text x="1217.5" y="1023" text-anchor="middle">70</text>
<text x="1403.5" y="1023" text-anchor="middle">80</text>
</g>
<text x="567" y="1077.5" font-size="57" font-weight="bold">2θ (Degree)</text>
<text transform="translate(69,623) rotate(-90)" font-size="59.2" font-weight="bold">Intensity (a. u.)</text>
<text x="927" y="855" font-size="49" font-weight="bold" fill="#8C146E" textLength="406" lengthAdjust="spacingAndGlyphs">JCPDS No:43-1003</text>
<line x1="970.5" y1="97.5" x2="1073.3" y2="97.5" stroke="#ff0000" stroke-width="7" stroke-linecap="round"/>
<rect x="956" y="384" width="133" height="3" fill="#0000ff"/>
<rect x="952" y="608" width="133" height="3" fill="#000"/>
<g font-size="59" fill="#000">
<text transform="translate(1087,114) scale(1,1.06)" font-size="59">Co</text>
<text transform="translate(1162,128) scale(1,1.07)" font-size="43">3</text>
<text transform="translate(1185,114) scale(1,1.06)" font-size="59">O</text>
<text transform="translate(1231,128) scale(1,1.07)" font-size="43">4</text>
<text transform="translate(1255,114) scale(1,1.06)" font-size="59">/NS</text>
<text transform="translate(1105,406) scale(1,1.06)" font-size="59">Co</text>
<text transform="translate(1180,424) scale(1,1.07)" font-size="40">3</text>
<text transform="translate(1202,406) scale(1,1.06)" font-size="59">O</text>
<text transform="translate(1248,424) scale(1,1.07)" font-size="40">4</text>
<text transform="translate(1270,406) scale(1,1.06)" font-size="59">/PC</text>
<text transform="translate(1100,631) scale(1,1.06)" font-size="59">Co</text>
<text transform="translate(1175,648) scale(1,1.07)" font-size="40">3</text>
<text transform="translate(1197,631) scale(1,1.06)" font-size="59">O</text>
<text transform="translate(1243,648) scale(1,1.07)" font-size="40">4</text>
</g>
</svg>
</body></html>
